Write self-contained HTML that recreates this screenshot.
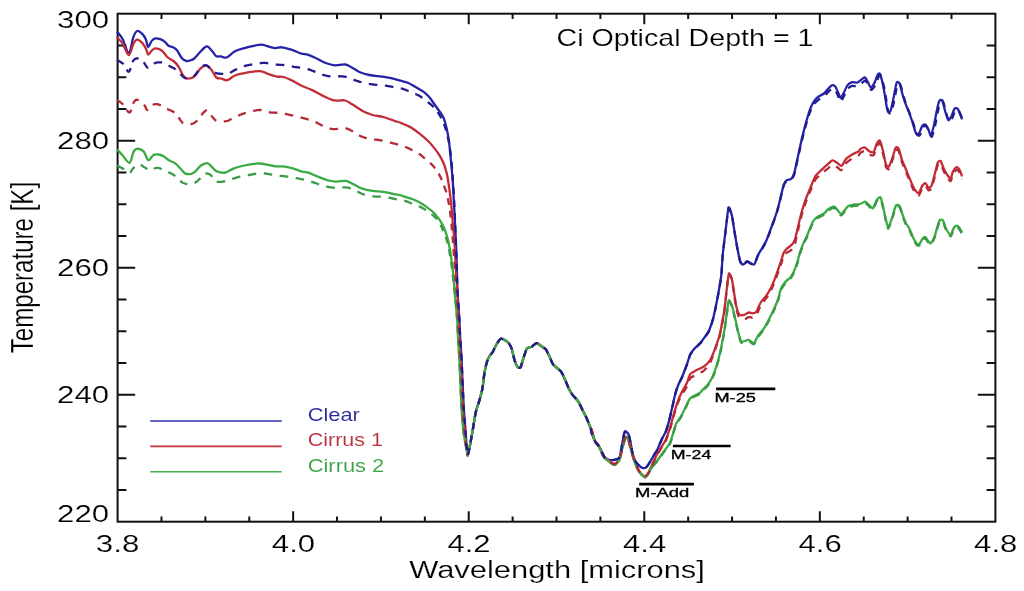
<!DOCTYPE html>
<html><head><meta charset="utf-8"><title>Ci Optical Depth</title>
<style>html,body{margin:0;padding:0;background:#fff;overflow:hidden}svg{display:block;will-change:transform}text{font-family:"Liberation Sans",sans-serif}</style>
</head><body>
<svg width="1024" height="591" viewBox="0 0 1024 591" font-family="Liberation Sans, sans-serif">
<rect width="1024" height="591" fill="#fff"/>
<rect x="117.6" y="13.7" width="877.8" height="508.0" fill="none" stroke="#111" stroke-width="2"/>
<path d="M161.49,521.70V516.50M161.49,13.70V18.90M205.38,521.70V516.50M205.38,13.70V18.90M249.27,521.70V516.50M249.27,13.70V18.90M293.16,521.70V511.20M293.16,13.70V24.20M337.05,521.70V516.50M337.05,13.70V18.90M380.94,521.70V516.50M380.94,13.70V18.90M424.83,521.70V516.50M424.83,13.70V18.90M468.72,521.70V511.20M468.72,13.70V24.20M512.61,521.70V516.50M512.61,13.70V18.90M556.50,521.70V516.50M556.50,13.70V18.90M600.39,521.70V516.50M600.39,13.70V18.90M644.28,521.70V511.20M644.28,13.70V24.20M688.17,521.70V516.50M688.17,13.70V18.90M732.06,521.70V516.50M732.06,13.70V18.90M775.95,521.70V516.50M775.95,13.70V18.90M819.84,521.70V511.20M819.84,13.70V24.20M863.73,521.70V516.50M863.73,13.70V18.90M907.62,521.70V516.50M907.62,13.70V18.90M951.51,521.70V516.50M951.51,13.70V18.90M117.60,489.95H126.40M995.40,489.95H986.60M117.60,458.20H126.40M995.40,458.20H986.60M117.60,426.45H126.40M995.40,426.45H986.60M117.60,394.70H135.20M995.40,394.70H977.80M117.60,362.95H126.40M995.40,362.95H986.60M117.60,331.20H126.40M995.40,331.20H986.60M117.60,299.45H126.40M995.40,299.45H986.60M117.60,267.70H135.20M995.40,267.70H977.80M117.60,235.95H126.40M995.40,235.95H986.60M117.60,204.20H126.40M995.40,204.20H986.60M117.60,172.45H126.40M995.40,172.45H986.60M117.60,140.70H135.20M995.40,140.70H977.80M117.60,108.95H126.40M995.40,108.95H986.60M117.60,77.20H126.40M995.40,77.20H986.60M117.60,45.45H126.40M995.40,45.45H986.60" stroke="#111" stroke-width="2" fill="none"/>
<text transform="translate(57.09,27.50) scale(1.2905,1)" font-size="24.20" fill="#000" stroke="#fff" stroke-width="0.184" >300</text>
<text transform="translate(57.09,148.70) scale(1.2905,1)" font-size="24.20" fill="#000" stroke="#fff" stroke-width="0.184" >280</text>
<text transform="translate(57.09,276.10) scale(1.2905,1)" font-size="24.20" fill="#000" stroke="#fff" stroke-width="0.184" >260</text>
<text transform="translate(57.09,403.40) scale(1.2905,1)" font-size="24.20" fill="#000" stroke="#fff" stroke-width="0.184" >240</text>
<text transform="translate(57.09,522.30) scale(1.2905,1)" font-size="24.20" fill="#000" stroke="#fff" stroke-width="0.184" >220</text>
<text transform="translate(95.85,552.00) scale(1.3150,1)" font-size="23.80" fill="#000" stroke="#fff" stroke-width="0.176" >3.8</text>
<text transform="translate(271.84,552.00) scale(1.3079,1)" font-size="23.80" fill="#000" stroke="#fff" stroke-width="0.176" >4.0</text>
<text transform="translate(447.40,552.00) scale(1.3079,1)" font-size="23.80" fill="#000" stroke="#fff" stroke-width="0.176" >4.2</text>
<text transform="translate(622.96,552.00) scale(1.3079,1)" font-size="23.80" fill="#000" stroke="#fff" stroke-width="0.176" >4.4</text>
<text transform="translate(798.52,552.00) scale(1.3079,1)" font-size="23.80" fill="#000" stroke="#fff" stroke-width="0.176" >4.6</text>
<text transform="translate(974.08,552.00) scale(1.3079,1)" font-size="23.80" fill="#000" stroke="#fff" stroke-width="0.176" >4.8</text>
<text transform="translate(409.19,577.60) scale(1.2559,1)" font-size="24.60" fill="#000" stroke="#fff" stroke-width="0.191" >Wavelength [microns]</text>
<text transform="translate(556.47,45.50) scale(1.2033,1)" font-size="23.80" fill="#000" stroke="#fff" stroke-width="0.176" >Ci Optical Depth = 1</text>
<text transform="translate(33,353.28) scale(1.30,1) rotate(-90)" font-size="24.1" fill="#000" stroke="#fff" stroke-width="0.18">Temperature [K]</text>
<line x1="150.2" y1="421.0" x2="281.7" y2="421.0" stroke="#3030b0" stroke-width="1.6"/>
<text transform="translate(307.71,421.00) scale(1.2488,1)" font-size="17.50" fill="#2a2a9c" stroke="#fff" stroke-width="0.063" >Clear</text>
<line x1="150.2" y1="446.4" x2="281.7" y2="446.4" stroke="#c53240" stroke-width="1.6"/>
<text transform="translate(307.73,446.20) scale(1.2286,1)" font-size="17.50" fill="#b8323e" stroke="#fff" stroke-width="0.063" >Cirrus 1</text>
<line x1="150.2" y1="471.8" x2="281.7" y2="471.8" stroke="#40b048" stroke-width="1.6"/>
<text transform="translate(307.71,471.80) scale(1.2504,1)" font-size="17.50" fill="#3aa446" stroke="#fff" stroke-width="0.063" >Cirrus 2</text>
<line x1="639.2" y1="484.1" x2="693.9" y2="484.1" stroke="#000" stroke-width="2.6"/>
<text transform="translate(635.03,496.90) scale(1.3753,1)" font-size="13.40" fill="#000" stroke="#000" stroke-width="0.35" >M-Add</text>
<line x1="672.9" y1="446.0" x2="730.6" y2="446.0" stroke="#000" stroke-width="2.6"/>
<text transform="translate(670.78,458.60) scale(1.3275,1)" font-size="13.40" fill="#000" stroke="#000" stroke-width="0.35" >M-24</text>
<line x1="716.1" y1="388.9" x2="775.3" y2="388.9" stroke="#000" stroke-width="2.6"/>
<text transform="translate(714.44,401.60) scale(1.3578,1)" font-size="13.40" fill="#000" stroke="#000" stroke-width="0.35" >M-25</text>
<path d="M117.00,31.70 C117.92,32.88 120.53,35.30 122.50,38.80 C124.47,42.30 126.98,53.00 128.80,52.70 C130.62,52.40 132.02,40.62 133.40,37.00 C134.78,33.38 135.55,31.45 137.10,31.00 C138.65,30.55 141.23,32.88 142.70,34.30 C144.17,35.72 144.98,37.37 145.90,39.50 C146.82,41.63 147.27,46.83 148.20,47.10 C149.13,47.37 150.33,42.55 151.50,41.10 C152.67,39.65 153.65,38.68 155.20,38.40 C156.75,38.12 159.20,38.83 160.80,39.40 C162.40,39.97 163.52,40.75 164.80,41.80 C166.08,42.85 167.08,44.77 168.50,45.70 C169.92,46.63 171.85,46.60 173.30,47.40 C174.75,48.20 175.77,48.68 177.20,50.50 C178.63,52.32 180.35,56.55 181.90,58.30 C183.45,60.05 184.95,60.70 186.50,61.00 C188.05,61.30 189.88,60.55 191.20,60.10 C192.52,59.65 192.83,59.73 194.40,58.30 C195.97,56.87 198.83,53.33 200.60,51.50 C202.37,49.67 203.82,48.12 205.00,47.30 C206.18,46.48 206.48,45.93 207.70,46.60 C208.92,47.27 210.87,49.68 212.30,51.30 C213.73,52.92 214.87,55.47 216.30,56.30 C217.73,57.13 219.22,56.10 220.90,56.30 C222.58,56.50 224.05,58.33 226.40,57.50 C228.75,56.67 232.00,52.87 235.00,51.30 C238.00,49.73 241.27,49.02 244.40,48.10 C247.53,47.18 250.93,46.37 253.80,45.80 C256.67,45.23 259.52,44.70 261.60,44.70 C263.68,44.70 264.10,45.23 266.30,45.80 C268.50,46.37 272.20,47.85 274.80,48.10 C277.40,48.35 279.15,47.03 281.90,47.30 C284.65,47.57 288.05,48.65 291.30,49.70 C294.55,50.75 298.80,52.82 301.40,53.60 C304.00,54.38 304.68,53.75 306.90,54.40 C309.12,55.05 311.58,56.07 314.70,57.50 C317.82,58.93 322.22,61.70 325.60,63.00 C328.98,64.30 331.73,65.05 335.00,65.30 C338.27,65.55 342.33,64.10 345.20,64.50 C348.07,64.90 349.73,66.40 352.20,67.70 C354.67,69.00 357.13,71.08 360.00,72.30 C362.87,73.52 365.75,74.28 369.40,75.00 C373.05,75.72 378.25,76.08 381.90,76.60 C385.55,77.12 388.23,77.43 391.30,78.10 C394.37,78.77 397.55,79.83 400.30,80.60 C403.05,81.37 405.25,81.63 407.80,82.70 C410.35,83.77 413.00,85.52 415.60,87.00 C418.20,88.48 421.18,89.98 423.40,91.60 C425.62,93.22 427.57,95.30 428.90,96.70 C430.23,98.10 429.87,97.87 431.40,100.00 C432.93,102.13 436.08,106.57 438.10,109.50 C440.12,112.43 442.03,114.23 443.50,117.60 C444.97,120.97 446.00,125.88 446.90,129.70 C447.80,133.52 448.33,136.45 448.90,140.50 C449.47,144.55 449.85,149.48 450.30,154.00 C450.75,158.52 451.20,163.18 451.60,167.60 C452.00,172.02 452.33,175.10 452.70,180.50 C453.07,185.90 453.20,188.42 453.80,200.00 C454.40,211.58 455.68,235.00 456.30,250.00 C456.92,265.00 456.98,278.33 457.50,290.00 C458.02,301.67 458.97,312.38 459.40,320.00 C459.69,325.08 459.86,331.26 460.10,335.70 C460.34,340.14 461.29,353.97 461.60,360.00 C461.91,366.03 462.64,384.40 462.90,390.00 C463.16,395.60 463.61,405.93 463.90,410.40 C464.19,414.87 465.22,426.48 465.50,430.20 C465.78,433.92 466.22,441.53 466.40,443.90 C466.58,446.27 466.97,450.23 467.10,451.50 C467.23,452.77 467.31,455.80 467.60,455.30 C467.89,454.80 469.13,449.79 469.70,447.00 C470.27,444.21 472.02,434.09 472.70,430.20 C473.38,426.31 475.03,415.38 475.80,412.00 C476.57,408.62 478.84,402.51 479.60,399.80 C480.36,397.09 482.07,390.54 482.60,387.60 C483.13,384.66 483.94,376.07 484.40,373.30 C484.86,370.53 486.18,364.54 486.70,362.70 C487.22,360.86 488.43,357.89 489.10,356.70 C489.77,355.51 491.91,353.31 492.70,352.00 C493.49,350.69 495.28,346.38 496.20,344.90 C497.12,343.42 499.68,338.97 501.00,338.70 C502.32,338.43 506.92,341.42 508.10,342.50 C509.28,343.58 510.88,346.42 511.60,348.40 C512.32,350.38 513.94,358.26 514.60,360.30 C515.26,362.34 516.84,366.01 517.50,366.80 C518.16,367.59 519.83,368.39 520.50,367.40 C521.17,366.41 522.78,360.01 523.50,357.90 C524.22,355.79 526.08,349.64 527.00,348.40 C527.92,347.16 530.74,347.29 531.80,346.70 C532.86,346.11 535.46,343.17 536.50,343.10 C537.54,343.03 540.14,345.38 541.20,346.10 C542.26,346.82 545.08,348.42 546.00,349.60 C546.92,350.78 548.71,355.06 549.50,356.70 C550.29,358.34 552.18,363.08 553.10,364.40 C554.02,365.72 556.88,367.74 557.80,368.60 C558.72,369.46 560.61,370.92 561.40,372.10 C562.19,373.28 564.13,377.50 564.90,379.20 C565.67,380.90 567.49,385.71 568.30,387.40 C569.11,389.09 571.09,392.83 572.20,394.40 C573.31,395.97 577.18,399.81 578.30,401.50 C579.42,403.19 581.40,407.80 582.30,409.60 C583.20,411.40 585.49,415.67 586.40,417.70 C587.31,419.73 589.90,426.12 590.50,427.90 C591.10,429.68 591.30,432.21 591.80,433.70 C592.30,435.19 594.19,439.89 595.00,441.30 C595.81,442.71 598.31,445.16 599.10,446.40 C599.89,447.64 601.42,451.20 602.10,452.50 C602.78,453.80 604.30,457.26 605.20,458.10 C606.10,458.94 609.08,459.93 610.20,460.10 C611.32,460.27 614.28,459.88 615.30,459.60 C616.32,459.32 618.72,458.84 619.40,457.60 C620.08,456.36 620.96,450.66 621.40,448.40 C621.84,446.14 623.00,439.21 623.40,437.30 C623.80,435.39 624.43,431.54 625.00,431.20 C625.57,430.86 627.89,432.97 628.50,434.20 C629.11,435.43 630.04,440.16 630.50,442.30 C630.96,444.44 632.03,451.36 632.60,453.50 C633.17,455.64 634.81,460.19 635.60,461.60 C636.39,463.01 638.86,465.47 639.70,466.20 C640.54,466.93 642.41,468.14 643.20,468.20 C643.99,468.26 645.96,467.54 646.80,466.70 C647.64,465.86 649.89,462.07 650.80,460.60 C651.71,459.13 654.30,454.68 655.00,453.50 C655.70,452.32 656.34,451.59 657.10,450.00 C657.86,448.41 660.81,441.32 661.80,439.20 C662.79,437.08 665.14,433.13 666.00,430.90 C666.86,428.67 668.78,421.86 669.50,419.10 C670.22,416.34 671.83,409.00 672.50,406.10 C673.17,403.20 674.84,395.38 675.50,393.00 C676.16,390.62 677.61,386.62 678.40,384.70 C679.19,382.78 681.62,378.06 682.60,375.70 C683.58,373.34 686.36,365.87 687.20,363.50 C688.04,361.13 689.36,356.09 690.20,354.40 C691.04,352.71 693.61,349.66 694.80,348.30 C695.99,346.94 699.72,343.56 700.90,342.20 C702.08,340.84 704.47,337.46 705.40,336.10 C706.33,334.74 708.38,332.20 709.30,330.00 C710.22,327.80 712.70,320.36 713.70,316.30 C714.70,312.24 717.46,298.07 718.30,293.50 C719.14,288.93 720.80,279.60 721.30,275.20 C721.80,270.80 722.29,259.13 722.80,253.90 C723.31,248.67 725.26,233.26 725.90,228.10 C726.54,222.94 727.92,208.86 728.60,207.50 C729.28,206.14 731.38,213.44 732.00,215.90 C732.62,218.36 733.61,226.06 734.20,229.60 C734.79,233.14 736.62,244.26 737.30,247.80 C737.98,251.34 739.62,259.63 740.30,261.50 C740.98,263.37 742.63,264.63 743.40,264.60 C744.17,264.57 746.02,261.20 747.20,261.20 C748.38,261.20 752.82,265.24 754.00,264.60 C755.18,263.96 756.87,257.27 757.80,255.40 C758.73,253.53 761.43,249.48 762.40,247.80 C763.37,246.12 765.43,242.78 766.50,240.30 C767.57,237.82 770.89,228.53 772.00,225.50 C773.11,222.47 775.67,215.61 776.50,213.00 C777.33,210.39 778.70,205.13 779.50,202.00 C780.30,198.87 782.90,187.22 783.70,184.80 C784.50,182.38 785.86,180.88 786.70,180.20 C787.54,179.52 790.44,179.54 791.30,178.70 C792.16,177.86 793.72,174.80 794.40,172.60 C795.08,170.40 796.73,161.94 797.40,158.90 C798.07,155.86 799.83,147.73 800.40,145.20 C800.97,142.67 801.82,138.80 802.50,136.10 C803.18,133.40 805.63,123.94 806.50,120.90 C807.37,117.86 809.46,110.90 810.30,108.70 C811.14,106.50 813.17,102.46 814.10,101.10 C815.03,99.74 817.60,97.34 818.70,96.50 C819.80,95.66 822.90,94.42 824.00,93.50 C825.10,92.58 827.67,89.13 828.60,88.20 C829.53,87.27 831.64,85.28 832.40,85.10 C833.16,84.92 834.72,85.67 835.40,86.60 C836.08,87.53 837.90,92.22 838.50,93.50 C839.10,94.78 840.21,98.19 840.80,98.10 C841.39,98.01 843.04,94.14 843.80,92.70 C844.56,91.26 846.67,86.28 847.60,85.10 C848.53,83.92 851.10,82.39 852.20,82.10 C853.30,81.81 856.40,82.84 857.50,82.50 C858.60,82.16 861.26,79.56 862.10,79.00 C862.94,78.44 864.42,77.08 865.10,77.50 C865.78,77.92 867.58,81.70 868.20,82.80 C868.82,83.90 870.00,87.39 870.70,87.40 C871.40,87.41 873.74,84.26 874.50,82.90 C875.26,81.54 876.91,76.22 877.50,75.20 C878.09,74.18 879.20,72.68 879.80,73.70 C880.40,74.72 882.31,81.86 882.90,84.40 C883.49,86.94 884.60,93.72 885.10,96.60 C885.60,99.48 886.80,108.70 887.40,110.30 C888.00,111.90 889.82,112.36 890.50,111.00 C891.18,109.64 892.82,101.22 893.50,98.10 C894.18,94.98 895.92,84.51 896.60,82.90 C897.28,81.29 898.92,82.26 899.60,83.60 C900.28,84.94 902.02,92.71 902.70,95.00 C903.38,97.29 905.02,102.33 905.70,104.20 C906.38,106.07 908.03,109.77 908.80,111.80 C909.57,113.83 911.84,120.21 912.60,122.50 C913.36,124.79 914.92,131.13 915.60,132.40 C916.28,133.67 917.93,134.67 918.70,133.90 C919.47,133.13 921.74,126.52 922.50,125.50 C923.26,124.48 924.82,124.19 925.50,124.70 C926.18,125.21 928.01,128.91 928.60,130.10 C929.19,131.29 930.21,135.91 930.80,135.40 C931.39,134.89 933.22,128.29 933.90,125.50 C934.58,122.71 936.31,113.01 936.90,110.30 C937.49,107.59 938.60,102.20 939.20,101.10 C939.80,100.00 941.62,99.21 942.30,100.40 C942.98,101.59 944.62,109.60 945.30,111.80 C945.98,114.00 947.72,119.69 948.40,120.20 C949.08,120.71 950.72,117.68 951.40,116.40 C952.08,115.12 953.82,109.56 954.50,108.70 C955.18,107.84 956.91,108.19 957.50,108.70 C958.09,109.21 959.29,112.11 959.80,113.30 C960.31,114.49 961.84,118.72 962.10,119.40" fill="none" stroke="#2523a8" stroke-width="2.3" stroke-linejoin="round"/>
<path d="M117.00,37.20 C117.92,38.23 120.53,40.42 122.50,43.40 C124.47,46.38 126.98,55.02 128.80,55.10 C130.62,55.18 132.02,46.47 133.40,43.90 C134.78,41.33 135.57,39.78 137.10,39.70 C138.63,39.62 141.07,41.77 142.60,43.40 C144.13,45.03 145.37,47.65 146.30,49.50 C147.23,51.35 147.27,54.33 148.20,54.50 C149.13,54.67 150.72,51.52 151.90,50.50 C153.08,49.48 153.67,48.40 155.30,48.40 C156.93,48.40 159.62,48.98 161.70,50.50 C163.78,52.02 165.83,55.75 167.80,57.50 C169.77,59.25 171.73,59.53 173.50,61.00 C175.27,62.47 176.77,63.87 178.40,66.30 C180.03,68.73 181.67,73.53 183.30,75.60 C184.93,77.67 186.35,78.58 188.20,78.70 C190.05,78.82 192.33,78.02 194.40,76.30 C196.47,74.58 198.65,70.23 200.60,68.40 C202.55,66.57 204.27,65.03 206.10,65.30 C207.93,65.57 209.90,67.97 211.60,70.00 C213.30,72.03 214.62,76.07 216.30,77.50 C217.98,78.93 219.88,78.15 221.70,78.60 C223.52,79.05 224.98,80.72 227.20,80.20 C229.42,79.68 232.13,76.68 235.00,75.50 C237.87,74.32 241.27,73.75 244.40,73.10 C247.53,72.45 250.93,71.90 253.80,71.60 C256.67,71.30 259.27,70.92 261.60,71.30 C263.93,71.68 265.20,73.02 267.80,73.90 C270.40,74.78 274.60,76.08 277.20,76.60 C279.80,77.12 280.80,76.28 283.40,77.00 C286.00,77.72 289.93,79.52 292.80,80.90 C295.67,82.28 297.47,83.80 300.60,85.30 C303.73,86.80 307.95,88.18 311.60,89.90 C315.25,91.62 319.12,93.95 322.50,95.60 C325.88,97.25 329.23,98.97 331.90,99.80 C334.57,100.63 336.28,100.48 338.50,100.60 C340.72,100.72 342.65,99.72 345.20,100.50 C347.75,101.28 350.82,103.50 353.80,105.30 C356.78,107.10 359.98,109.68 363.10,111.30 C366.22,112.92 369.12,114.05 372.50,115.00 C375.88,115.95 379.75,116.02 383.40,117.00 C387.05,117.98 391.63,119.98 394.40,120.90 C397.17,121.82 397.92,121.73 400.00,122.50 C402.08,123.27 404.87,124.55 406.90,125.50 C408.93,126.45 409.93,126.72 412.20,128.20 C414.47,129.68 417.77,132.18 420.50,134.40 C423.23,136.62 426.23,139.13 428.60,141.50 C430.97,143.87 432.85,146.23 434.70,148.60 C436.55,150.97 438.18,153.17 439.70,155.70 C441.22,158.23 442.78,161.42 443.80,163.80 C444.82,166.18 445.17,167.72 445.80,170.00 C446.43,172.28 446.77,172.50 447.60,177.50 C448.43,182.50 449.98,192.92 450.80,200.00 C451.62,207.08 451.90,213.17 452.50,220.00 C453.10,226.83 453.82,232.67 454.40,241.00 C454.98,249.33 455.48,261.00 456.00,270.00 C456.52,279.00 457.08,286.67 457.50,295.00 C457.92,303.33 458.22,313.22 458.50,320.00 C458.69,324.52 458.96,331.26 459.20,335.70 C459.44,340.14 460.39,353.97 460.70,360.00 C461.01,366.03 461.74,384.40 462.00,390.00 C462.26,395.60 462.71,405.93 463.00,410.40 C463.29,414.87 464.27,426.48 464.60,430.20 C464.93,433.92 465.71,441.53 465.99,443.90 C466.27,446.27 466.92,450.23 467.10,451.50 C467.28,452.77 467.31,455.80 467.60,455.30 C467.89,454.80 469.13,449.79 469.70,447.00 C470.27,444.21 472.02,434.09 472.70,430.20 C473.38,426.31 475.03,415.38 475.80,412.00 C476.57,408.62 478.84,402.51 479.60,399.80 C480.36,397.09 482.07,390.54 482.60,387.60 C483.13,384.66 483.94,376.07 484.40,373.30 C484.86,370.53 486.18,364.54 486.70,362.70 C487.22,360.86 488.43,357.89 489.10,356.70 C489.77,355.51 491.91,353.31 492.70,352.00 C493.49,350.69 495.28,346.38 496.20,344.90 C497.12,343.42 499.68,338.97 501.00,338.70 C502.32,338.43 506.92,341.42 508.10,342.50 C509.28,343.58 510.88,346.42 511.60,348.40 C512.32,350.38 513.94,358.26 514.60,360.30 C515.26,362.34 516.84,366.01 517.50,366.80 C518.16,367.59 519.83,368.39 520.50,367.40 C521.17,366.41 522.78,360.01 523.50,357.90 C524.22,355.79 526.08,349.64 527.00,348.40 C527.92,347.16 530.74,347.29 531.80,346.70 C532.86,346.11 535.46,343.17 536.50,343.10 C537.54,343.03 540.14,345.38 541.20,346.10 C542.26,346.82 545.08,348.42 546.00,349.60 C546.92,350.78 548.71,355.06 549.50,356.70 C550.29,358.34 552.18,363.08 553.10,364.40 C554.02,365.72 556.88,367.74 557.80,368.60 C558.72,369.46 560.61,370.92 561.40,372.10 C562.19,373.28 564.13,377.50 564.90,379.20 C565.67,380.90 567.49,385.71 568.30,387.40 C569.11,389.09 571.09,392.83 572.20,394.40 C573.31,395.97 577.18,399.81 578.30,401.50 C579.42,403.19 581.40,407.80 582.30,409.60 C583.20,411.40 585.49,415.67 586.40,417.70 C587.31,419.73 589.94,426.62 590.50,427.90 C591.06,429.18 590.90,427.78 591.40,429.20 C591.90,430.62 594.16,438.81 595.00,440.70 C595.84,442.59 598.03,444.50 599.00,446.20 C599.97,447.90 602.52,454.32 603.70,456.00 C604.88,457.68 608.39,460.41 609.60,461.30 C610.81,462.19 613.52,464.20 614.60,464.00 C615.68,463.80 618.42,461.42 619.30,459.50 C620.18,457.58 621.81,449.22 622.50,446.70 C623.19,444.18 624.83,437.58 625.50,436.80 C626.17,436.02 627.80,438.01 628.50,439.70 C629.20,441.39 631.00,449.30 631.80,452.00 C632.60,454.70 634.79,461.76 635.70,464.00 C636.61,466.24 638.98,470.84 640.00,472.20 C641.02,473.56 643.92,476.22 644.90,476.20 C645.88,476.18 647.94,473.41 648.80,472.00 C649.66,470.59 651.80,465.22 652.60,463.50 C653.40,461.78 655.23,458.00 656.00,456.50 C656.77,455.00 658.46,451.79 659.50,450.00 C660.54,448.21 664.22,442.91 665.40,440.40 C666.58,437.89 669.18,430.29 670.10,427.40 C671.02,424.51 672.84,417.30 673.70,414.40 C674.56,411.50 676.88,403.81 677.80,401.30 C678.72,398.79 681.01,393.77 682.00,391.80 C682.99,389.83 685.79,385.57 686.70,383.60 C687.61,381.63 689.13,375.58 690.20,374.10 C691.27,372.62 694.78,371.14 696.30,370.30 C697.82,369.46 702.38,367.60 703.90,366.50 C705.42,365.40 708.81,362.26 710.00,360.40 C711.19,358.54 713.67,352.17 714.60,349.80 C715.53,347.43 717.82,340.79 718.40,339.10 C718.98,337.41 719.13,337.81 719.80,334.60 C720.47,331.39 723.64,315.11 724.40,310.20 C725.16,305.29 726.10,294.46 726.60,290.40 C727.10,286.34 728.30,274.88 728.90,273.70 C729.50,272.52 731.41,277.60 732.00,279.80 C732.59,282.00 733.70,290.46 734.20,293.50 C734.70,296.54 735.90,304.83 736.50,307.20 C737.10,309.57 738.76,313.96 739.60,314.80 C740.44,315.64 743.09,315.06 744.10,314.80 C745.11,314.54 747.77,312.67 748.70,312.50 C749.63,312.33 751.66,313.38 752.50,313.30 C753.34,313.22 755.39,313.00 756.30,311.80 C757.21,310.60 759.57,304.33 760.70,302.50 C761.83,300.67 765.38,296.89 766.50,295.30 C767.62,293.71 769.84,290.11 770.80,288.20 C771.76,286.29 774.22,280.34 775.10,278.10 C775.98,275.86 777.94,270.20 778.70,268.00 C779.46,265.80 781.34,260.00 781.90,258.30 C782.46,256.60 783.19,253.73 783.70,252.70 C784.21,251.67 785.78,249.72 786.50,249.00 C787.22,248.28 789.48,246.82 790.20,246.20 C790.92,245.58 792.48,244.12 793.00,243.40 C793.52,242.68 794.54,240.69 794.90,239.70 C795.26,238.71 795.77,236.30 796.20,234.50 C796.63,232.70 798.17,226.08 798.80,223.50 C799.43,220.92 801.13,213.97 801.90,211.30 C802.67,208.63 804.74,202.14 805.70,199.50 C806.66,196.86 809.39,190.14 810.50,187.50 C811.61,184.86 814.44,177.69 815.70,175.70 C816.96,173.71 820.46,170.88 821.80,169.60 C823.14,168.32 826.62,165.22 827.80,164.20 C828.98,163.18 831.38,160.57 832.40,160.40 C833.42,160.23 835.99,162.10 837.00,162.70 C838.01,163.30 840.49,166.22 841.50,165.80 C842.51,165.38 844.91,160.17 846.10,158.90 C847.29,157.63 850.84,155.22 852.20,154.40 C853.56,153.58 857.38,152.11 858.30,151.50 C859.22,150.89 859.80,149.36 860.50,148.90 C861.20,148.44 863.64,147.14 864.60,147.40 C865.56,147.66 868.09,150.69 869.10,151.20 C870.11,151.71 872.84,152.84 873.70,152.00 C874.56,151.16 876.12,144.87 876.80,143.60 C877.48,142.33 879.12,139.83 879.80,140.60 C880.48,141.37 882.22,147.88 882.90,150.50 C883.58,153.12 885.23,162.42 885.90,164.20 C886.57,165.98 888.13,167.34 888.90,166.50 C889.67,165.66 892.03,158.72 892.80,156.60 C893.57,154.48 895.13,148.26 895.80,147.40 C896.47,146.54 898.12,147.54 898.80,148.90 C899.48,150.26 901.13,157.39 901.90,159.60 C902.67,161.81 904.93,166.93 905.70,168.80 C906.47,170.67 908.03,174.54 908.80,176.40 C909.57,178.26 911.84,183.90 912.60,185.50 C913.36,187.10 914.92,189.96 915.60,190.80 C916.28,191.64 917.93,193.69 918.70,193.10 C919.47,192.51 921.74,186.60 922.50,185.50 C923.26,184.40 924.82,182.94 925.50,183.20 C926.18,183.46 927.92,187.54 928.60,187.80 C929.28,188.06 930.93,186.94 931.60,185.50 C932.27,184.06 933.92,177.33 934.60,174.80 C935.28,172.27 937.02,164.22 937.70,162.70 C938.38,161.18 940.02,160.42 940.70,161.10 C941.38,161.78 943.12,167.36 943.80,168.80 C944.48,170.24 946.04,173.00 946.80,174.10 C947.56,175.20 949.92,178.96 950.60,178.70 C951.28,178.44 952.22,173.08 952.90,171.80 C953.58,170.52 955.93,167.37 956.70,167.20 C957.47,167.03 959.20,169.28 959.80,170.30 C960.40,171.32 961.84,175.72 962.10,176.40" fill="none" stroke="#c32c36" stroke-width="2.3" stroke-linejoin="round"/>
<path d="M117.00,149.20 C117.92,150.22 120.42,153.03 122.50,155.30 C124.58,157.57 127.68,163.32 129.50,162.80 C131.32,162.28 132.18,154.53 133.40,152.20 C134.62,149.87 135.10,148.93 136.80,148.80 C138.50,148.67 141.68,149.52 143.60,151.40 C145.52,153.28 146.65,159.50 148.30,160.10 C149.95,160.70 151.82,155.93 153.50,155.00 C155.18,154.07 156.80,154.32 158.40,154.50 C160.00,154.68 161.27,155.10 163.10,156.10 C164.93,157.10 167.32,159.25 169.40,160.50 C171.48,161.75 173.52,161.98 175.60,163.60 C177.68,165.22 180.25,168.53 181.90,170.20 C183.55,171.87 183.93,173.00 185.50,173.60 C187.07,174.20 189.68,174.12 191.30,173.80 C192.92,173.48 193.65,173.03 195.20,171.70 C196.75,170.37 198.58,167.23 200.60,165.80 C202.62,164.37 205.47,162.97 207.30,163.10 C209.13,163.23 210.02,165.22 211.60,166.60 C213.18,167.98 214.47,170.42 216.80,171.40 C219.13,172.38 222.73,173.02 225.60,172.50 C228.47,171.98 230.87,169.47 234.00,168.30 C237.13,167.13 241.10,166.23 244.40,165.50 C247.70,164.77 251.20,164.23 253.80,163.90 C256.40,163.57 257.67,163.35 260.00,163.50 C262.33,163.65 265.20,164.32 267.80,164.80 C270.40,165.28 273.00,166.13 275.60,166.40 C278.20,166.67 280.53,166.07 283.40,166.40 C286.27,166.73 289.67,167.53 292.80,168.40 C295.93,169.27 299.60,170.88 302.20,171.60 C304.80,172.32 305.80,171.87 308.40,172.70 C311.00,173.53 314.40,175.30 317.80,176.60 C321.20,177.90 325.67,179.67 328.80,180.50 C331.93,181.33 333.75,181.53 336.60,181.60 C339.45,181.67 343.03,180.43 345.90,180.90 C348.77,181.37 351.18,183.17 353.80,184.40 C356.42,185.63 358.48,187.22 361.60,188.30 C364.72,189.38 368.87,190.30 372.50,190.90 C376.13,191.50 379.75,191.35 383.40,191.90 C387.05,192.45 391.63,193.65 394.40,194.20 C397.17,194.75 398.18,194.75 400.00,195.20 C401.82,195.65 403.27,196.27 405.30,196.90 C407.33,197.53 409.85,198.10 412.20,199.00 C414.55,199.90 417.37,201.23 419.40,202.30 C421.43,203.37 421.88,203.53 424.40,205.40 C426.92,207.27 431.47,210.28 434.50,213.50 C437.53,216.72 440.40,220.47 442.60,224.70 C444.80,228.93 446.33,233.83 447.70,238.90 C449.07,243.97 449.88,249.35 450.80,255.10 C451.72,260.85 452.53,266.97 453.20,273.40 C453.87,279.83 454.13,285.93 454.80,293.70 C455.47,301.47 456.68,313.00 457.20,320.00 C457.72,327.00 457.53,329.03 457.90,335.70 C458.27,342.37 458.93,350.95 459.40,360.00 C459.71,366.03 460.44,384.40 460.70,390.00 C460.96,395.60 461.41,405.93 461.70,410.40 C461.99,414.87 462.89,426.48 463.30,430.20 C463.71,433.92 464.98,441.53 465.40,443.90 C465.82,446.27 466.86,450.23 467.10,451.50 C467.34,452.77 467.31,455.80 467.60,455.30 C467.89,454.80 469.13,449.79 469.70,447.00 C470.27,444.21 472.02,434.09 472.70,430.20 C473.38,426.31 475.03,415.38 475.80,412.00 C476.57,408.62 478.84,402.51 479.60,399.80 C480.36,397.09 482.07,390.54 482.60,387.60 C483.13,384.66 483.94,376.07 484.40,373.30 C484.86,370.53 486.18,364.54 486.70,362.70 C487.22,360.86 488.43,357.89 489.10,356.70 C489.77,355.51 491.91,353.31 492.70,352.00 C493.49,350.69 495.28,346.38 496.20,344.90 C497.12,343.42 499.68,338.97 501.00,338.70 C502.32,338.43 506.92,341.42 508.10,342.50 C509.28,343.58 510.88,346.42 511.60,348.40 C512.32,350.38 513.94,358.26 514.60,360.30 C515.26,362.34 516.84,366.01 517.50,366.80 C518.16,367.59 519.83,368.39 520.50,367.40 C521.17,366.41 522.78,360.01 523.50,357.90 C524.22,355.79 526.08,349.64 527.00,348.40 C527.92,347.16 530.74,347.29 531.80,346.70 C532.86,346.11 535.46,343.17 536.50,343.10 C537.54,343.03 540.14,345.38 541.20,346.10 C542.26,346.82 545.08,348.42 546.00,349.60 C546.92,350.78 548.71,355.06 549.50,356.70 C550.29,358.34 552.18,363.08 553.10,364.40 C554.02,365.72 556.88,367.74 557.80,368.60 C558.72,369.46 560.61,370.92 561.40,372.10 C562.19,373.28 564.13,377.50 564.90,379.20 C565.67,380.90 567.49,385.71 568.30,387.40 C569.11,389.09 571.09,392.83 572.20,394.40 C573.31,395.97 577.18,399.81 578.30,401.50 C579.42,403.19 581.40,407.80 582.30,409.60 C583.20,411.40 585.49,415.67 586.40,417.70 C587.31,419.73 589.94,426.53 590.50,427.90 C591.06,429.27 590.90,428.49 591.40,430.00 C591.90,431.51 594.16,439.61 595.00,441.50 C595.84,443.39 598.03,445.30 599.00,447.00 C599.97,448.70 602.52,455.12 603.70,456.80 C604.88,458.48 608.39,461.21 609.60,462.10 C610.81,462.99 613.52,465.00 614.60,464.80 C615.68,464.60 618.42,462.22 619.30,460.30 C620.18,458.38 621.81,450.02 622.50,447.50 C623.19,444.98 624.83,438.38 625.50,437.60 C626.17,436.82 627.80,438.81 628.50,440.50 C629.20,442.19 631.00,450.10 631.80,452.80 C632.60,455.50 634.79,462.56 635.70,464.80 C636.61,467.04 638.98,471.64 640.00,473.00 C641.02,474.36 643.92,477.02 644.90,477.00 C645.88,476.98 647.91,474.06 648.80,472.80 C649.69,471.54 651.99,467.01 652.90,465.70 C653.81,464.39 655.89,462.44 657.00,461.00 C658.11,459.56 661.84,454.14 662.90,452.70 C663.96,451.26 665.70,449.10 666.50,448.00 C667.30,446.90 669.37,444.43 670.10,442.80 C670.83,441.17 672.43,435.41 673.10,433.30 C673.77,431.19 675.24,425.64 676.10,423.80 C676.96,421.96 679.76,418.53 680.80,416.70 C681.84,414.87 684.51,409.27 685.50,407.30 C686.49,405.33 688.78,400.26 689.70,399.00 C690.62,397.74 692.68,396.67 693.80,396.00 C694.92,395.33 698.88,393.62 699.80,393.00 C700.72,392.38 701.19,391.36 702.10,390.40 C703.01,389.44 706.81,385.98 708.00,384.40 C709.19,382.82 711.88,378.17 712.80,376.20 C713.72,374.23 715.58,368.94 716.30,366.70 C717.02,364.46 718.71,358.37 719.30,356.00 C719.89,353.63 721.14,347.63 721.60,345.40 C722.06,343.17 723.07,337.72 723.40,335.90 C723.73,334.08 724.16,332.02 724.60,329.00 C725.04,325.98 726.92,311.89 727.40,308.70 C727.88,305.51 728.39,300.63 728.90,300.30 C729.41,299.97 731.32,303.76 732.00,305.70 C732.68,307.64 734.32,314.93 735.00,317.80 C735.68,320.67 737.42,328.88 738.10,331.50 C738.78,334.12 740.26,340.38 741.10,341.40 C741.94,342.42 744.86,340.87 745.70,340.70 C746.54,340.53 747.78,339.64 748.70,339.90 C749.62,340.16 752.99,343.42 754.00,343.00 C755.01,342.58 756.70,337.71 757.80,336.10 C758.90,334.49 762.70,330.29 763.90,328.50 C765.10,326.71 767.51,322.09 768.60,320.00 C769.69,317.91 772.66,311.98 773.70,309.70 C774.74,307.42 777.20,301.80 778.00,299.50 C778.80,297.20 780.06,290.99 780.90,289.00 C781.74,287.01 784.57,282.84 785.60,281.60 C786.63,280.36 789.32,278.84 790.20,277.80 C791.08,276.76 792.88,273.43 793.50,272.20 C794.12,270.97 795.33,267.93 795.80,266.70 C796.27,265.47 797.28,262.56 797.70,261.10 C798.12,259.64 799.13,255.16 799.60,253.60 C800.07,252.04 801.39,248.44 801.90,247.10 C802.41,245.76 803.63,242.74 804.20,241.50 C804.77,240.26 806.41,237.23 807.00,235.90 C807.59,234.57 808.80,231.16 809.50,229.50 C810.20,227.84 812.37,222.44 813.30,221.00 C814.23,219.56 816.71,217.33 817.90,216.50 C819.09,215.67 822.88,214.28 824.00,213.50 C825.12,212.72 827.11,210.22 828.00,209.50 C828.89,208.78 831.27,207.30 832.00,207.00 C832.73,206.70 833.97,206.43 834.60,206.80 C835.23,207.17 836.99,209.50 837.70,210.30 C838.41,211.10 840.32,213.89 841.00,214.00 C841.68,214.11 842.98,212.19 843.80,211.30 C844.62,210.41 847.21,206.76 848.40,206.00 C849.59,205.24 853.18,204.72 854.50,204.50 C855.82,204.28 859.11,204.32 860.30,204.00 C861.49,203.68 864.22,201.48 865.20,201.60 C866.18,201.72 868.23,204.37 869.10,205.10 C869.97,205.83 872.14,208.79 873.00,208.20 C873.86,207.61 875.96,200.99 876.80,199.80 C877.64,198.61 879.84,196.49 880.60,197.50 C881.36,198.51 883.01,206.44 883.60,208.90 C884.19,211.36 885.39,217.57 885.90,219.60 C886.41,221.63 887.52,227.37 888.20,227.20 C888.88,227.03 891.16,220.47 892.00,218.10 C892.84,215.73 894.96,207.26 895.80,205.90 C896.64,204.54 898.83,204.89 899.60,205.90 C900.37,206.91 902.02,213.13 902.70,215.00 C903.38,216.87 904.94,221.17 905.70,222.70 C906.46,224.23 908.73,227.28 909.50,228.80 C910.27,230.32 911.83,234.80 912.60,236.40 C913.37,238.00 915.64,242.36 916.40,243.20 C917.16,244.04 918.72,244.50 919.40,244.00 C920.08,243.50 921.82,239.47 922.50,238.70 C923.18,237.93 924.82,236.77 925.50,237.10 C926.18,237.43 928.01,241.02 928.60,241.70 C929.19,242.38 930.13,243.79 930.80,243.20 C931.47,242.61 933.83,238.34 934.60,236.40 C935.37,234.46 937.10,227.53 937.70,225.70 C938.30,223.87 939.41,220.49 940.00,219.90 C940.59,219.31 942.32,219.41 943.00,220.40 C943.68,221.39 945.26,227.20 946.10,228.80 C946.94,230.40 949.76,234.89 950.60,234.80 C951.44,234.71 953.02,229.01 953.70,228.00 C954.38,226.99 956.11,225.79 956.70,225.70 C957.29,225.61 958.40,226.43 959.00,227.20 C959.60,227.97 961.76,232.00 962.10,232.60" fill="none" stroke="#3aab42" stroke-width="2.3" stroke-linejoin="round"/>
<path d="M117.00,165.50 117.39,165.71 117.88,165.97 118.47,166.28 119.14,166.63 119.85,167.01 120.61,167.41 121.37,167.82 122.14,168.23 122.89,168.63 123.59,169.02 124.14,169.32M129.94,172.62 130.18,172.46 130.49,172.15 130.80,171.78 131.10,171.35 131.40,170.89 131.70,170.40 132.01,169.90 132.33,169.40 132.67,168.93 133.02,168.49 133.40,168.10 133.80,167.72 134.22,167.32 134.61,166.95M140.72,164.72 141.16,164.99 141.61,165.31 142.06,165.65 142.51,166.00 142.98,166.35 143.44,166.70 143.92,167.02 144.40,167.30 144.90,167.58 145.41,167.89 145.94,168.22 146.47,168.57 147.01,168.91 147.32,169.10M153.75,168.94 153.79,168.91 154.16,168.64 154.53,168.41 154.91,168.22 155.30,168.10 155.68,168.02 156.05,167.96 156.40,167.91 156.75,167.88 157.10,167.87 157.46,167.88 157.82,167.90 158.20,167.96 158.61,168.03 159.04,168.13 159.50,168.25 160.00,168.40 160.55,168.59 161.14,168.81 161.72,169.06M168.21,172.20 168.38,172.28 168.96,172.55 169.52,172.81 170.07,173.07 170.61,173.33 171.14,173.58 171.66,173.84 172.17,174.10 172.67,174.36 173.16,174.63 173.64,174.91 174.10,175.20 174.55,175.50 174.98,175.81 175.30,176.05M180.29,180.58 180.56,180.86 180.90,181.22 181.25,181.57 181.63,181.90 182.02,182.21 182.44,182.51 182.90,182.77 183.40,183.00 183.95,183.21 184.55,183.41 185.18,183.60 185.85,183.77 186.54,183.92 187.25,184.05 187.38,184.07M194.60,182.97 195.00,182.73 195.49,182.40 195.98,182.06 196.48,181.69 196.99,181.30 197.50,180.90 198.03,180.45 198.57,179.94 199.12,179.37 199.68,178.76 200.24,178.13 200.38,177.97M205.40,173.56 205.60,173.51 205.90,173.45 206.20,173.42 206.49,173.43 206.78,173.45 207.08,173.49 207.38,173.54 207.70,173.60 208.02,173.67 208.34,173.77 208.66,173.88 208.97,174.02 209.28,174.18 209.60,174.36 209.92,174.56 210.24,174.78 210.57,175.03 210.90,175.30 211.25,175.59 211.60,175.90 211.95,176.26 212.30,176.70 212.36,176.77M216.72,181.55 216.84,181.60 217.42,181.74 218.03,181.84 218.67,181.89 219.33,181.91 220.01,181.89 220.69,181.84 221.39,181.77 222.08,181.69 222.76,181.60 223.44,181.50 224.10,181.40 224.75,181.29 225.22,181.19M232.29,178.98 232.54,178.90 233.16,178.70 233.78,178.50 234.39,178.29 234.99,178.09 235.61,177.88 236.23,177.68 236.87,177.47 237.53,177.27 238.22,177.08 238.94,176.89 239.70,176.70 240.35,176.55M247.77,175.18 247.91,175.16 248.83,175.00 249.73,174.85 250.60,174.70 251.45,174.55 252.31,174.40 253.17,174.25 254.02,174.10 254.86,173.95 255.69,173.81 256.21,173.73M263.74,173.27 264.11,173.32 264.70,173.40 265.40,173.50 266.18,173.63 267.02,173.78 267.93,173.94 268.88,174.12 269.86,174.30 270.85,174.49 271.85,174.67 272.17,174.73M279.68,175.74 280.20,175.79 280.94,175.85 281.69,175.92 282.47,175.99 283.27,176.08 284.11,176.18 285.00,176.30 285.95,176.44 286.96,176.59 288.02,176.76 288.21,176.79M295.65,178.07 295.65,178.07 296.61,178.24 297.50,178.40 298.31,178.55 299.05,178.68 299.74,178.81 300.39,178.93 301.00,179.04 301.59,179.16 302.17,179.27 302.76,179.40 303.35,179.53 303.96,179.67 304.04,179.69M311.21,181.70 311.63,181.82 312.42,182.07 313.21,182.32 313.97,182.56 314.70,182.80 315.40,183.04 316.07,183.28 316.72,183.52 317.36,183.77 317.98,184.01 318.60,184.26 319.10,184.45M326.25,186.49 326.47,186.54 327.30,186.71 328.13,186.87 328.94,187.02 329.74,187.16 330.50,187.29 331.22,187.40 331.90,187.50 332.52,187.58 333.09,187.65 333.62,187.70 334.11,187.74 334.59,187.77 334.72,187.77M342.32,187.53 342.34,187.53 343.10,187.47 343.86,187.43 344.60,187.41 345.33,187.41 346.03,187.44 346.70,187.50 347.34,187.59 347.94,187.71 348.53,187.85 349.10,188.00 349.65,188.17 350.21,188.36 350.72,188.55M357.34,191.50 357.43,191.55 358.21,191.95 358.99,192.35 359.79,192.74 360.60,193.12 361.43,193.48 362.26,193.81 363.10,194.10 363.96,194.37 364.84,194.62 364.96,194.65M372.33,196.16 373.18,196.28 374.10,196.40 375.01,196.50 375.92,196.57 376.83,196.61 377.74,196.63 378.65,196.64 379.56,196.65 380.46,196.66 380.93,196.66M388.44,197.51 388.89,197.60 389.89,197.83 390.88,198.06 391.84,198.29 392.77,198.51 393.65,198.72 394.48,198.91 395.23,199.07 395.90,199.20 396.48,199.30 396.76,199.34M404.17,200.56 404.53,200.68 405.11,200.89 405.73,201.12 406.39,201.38 407.08,201.65 407.79,201.92 408.51,202.21 409.23,202.50 409.95,202.79 410.66,203.07 411.34,203.34 411.91,203.57M418.76,206.20 418.80,206.22 419.40,206.50 419.99,206.78 420.55,207.06 421.11,207.33 421.65,207.60 422.19,207.88 422.73,208.18 423.28,208.49 423.85,208.82 424.44,209.19 425.06,209.58 425.71,210.02 425.82,210.10M431.45,214.14 431.54,214.21 432.46,214.93 433.36,215.65 434.23,216.39 435.05,217.13 435.81,217.87 436.50,218.60 437.08,219.28M440.42,224.65 440.77,225.37 441.17,226.21 441.57,227.09 442.00,228.00 442.44,228.94 442.88,229.91 443.32,230.90 443.38,231.04M445.65,236.77 445.87,237.38 446.26,238.56 446.64,239.77 447.00,241.00 447.35,242.27 447.63,243.39M448.94,249.30 449.19,250.57 449.46,252.04 449.73,253.52 449.99,255.00 450.17,256.03M451.11,261.98 451.21,262.63 451.43,264.22 451.64,265.83 451.84,267.44 452.01,268.74M452.73,274.72 452.81,275.45 453.00,277.00 453.18,278.51 453.36,279.98 453.53,281.41 453.54,281.49M454.22,287.46 454.34,288.52 454.50,290.03 454.66,291.61 454.83,293.26 454.92,294.24M455.50,300.22 455.57,300.98 455.77,303.16 455.98,305.39 456.12,307.01M456.65,312.99 456.75,314.24 456.92,316.29 457.07,318.22 457.18,319.78M457.52,325.77 457.56,326.77 457.59,327.89 457.63,329.02 457.66,330.17 457.70,331.39 457.75,332.57M458.07,338.56 458.11,339.19 458.22,341.04 458.35,342.95 458.48,344.93 458.51,345.36M458.90,351.35 459.02,353.32 459.15,355.52 459.28,357.75 459.30,358.14M459.60,364.14 459.70,366.45 459.82,369.21 459.89,370.93M460.14,376.93 460.20,378.17 460.32,381.07 460.43,383.72M460.69,389.72 460.70,390.00 460.77,391.49 460.84,393.15 460.92,394.92 461.00,396.52M461.28,402.51 461.28,402.53 461.37,404.37 461.46,406.12 461.54,407.73 461.62,409.17 461.63,409.31M462.05,415.30 462.15,416.69 462.30,418.62 462.45,420.58 462.58,422.09M463.09,428.07 463.19,429.11 463.30,430.20 463.42,431.21 463.57,432.34 463.74,433.58 463.93,434.84M464.87,440.79 464.95,441.28 465.12,442.32 465.28,443.20 465.40,443.90 465.52,444.52 465.65,445.20 465.81,445.91 465.97,446.64 466.14,447.38 466.17,447.51M467.39,453.43 467.42,453.72 467.46,454.08 467.50,454.41 467.53,454.71 467.56,454.96 467.58,455.16 467.60,455.30" fill="none" stroke="#3a9a46" stroke-width="2.3" stroke-linejoin="round"/>
<path d="M590.50,427.90 590.53,427.96 590.57,428.03 590.61,428.12 590.67,428.21 590.73,428.33 590.80,428.48 590.88,428.64 590.97,428.84 591.06,429.08 591.17,429.35 591.28,429.66 591.40,430.01 591.56,430.52 591.78,431.26 592.05,432.19 592.37,433.25 592.71,434.42 592.72,434.46M594.53,440.29 594.76,440.95 595.00,441.54 595.24,442.02 595.52,442.49 595.85,442.97 596.20,443.44 596.57,443.91 596.95,444.38 597.34,444.84 597.72,445.30 598.09,445.76 598.43,446.20 598.49,446.29M601.22,451.88 601.27,452.00 601.72,453.01 602.17,453.99 602.60,454.91 603.01,455.72 603.38,456.40 603.70,456.91 604.04,457.36 604.46,457.83 604.69,458.07M609.87,462.46 609.93,462.51 610.32,462.79 610.74,463.10 611.20,463.42 611.67,463.74 612.15,464.04 612.63,464.33 613.09,464.58 613.53,464.78 613.94,464.93 614.30,465.01 614.60,465.00 614.90,464.91 615.26,464.74 615.67,464.50 616.10,464.19 616.56,463.83 616.77,463.64M620.01,458.32 620.07,458.09 620.37,456.94 620.67,455.69 620.97,454.38 621.27,453.06 621.56,451.78 621.59,451.63M623.04,445.74 623.17,445.27 623.44,444.26 623.72,443.22 624.01,442.18 624.30,441.17 624.58,440.24 624.85,439.41 624.95,439.11M628.68,441.32 628.70,441.37 628.93,442.13 629.20,443.08 629.49,444.17 629.80,445.36 630.11,446.61 630.43,447.87 630.46,447.98M632.01,453.85 632.03,453.91 632.30,454.82 632.62,455.85 632.96,456.97 633.33,458.14 633.71,459.34 634.07,460.45M636.15,466.22 636.26,466.48 636.61,467.23 636.99,468.01 637.39,468.82 637.81,469.63 638.22,470.42 638.63,471.18 639.02,471.87 639.39,472.49 639.41,472.52M644.12,477.17 644.27,477.26 644.62,477.41 644.90,477.46 645.17,477.40 645.47,477.23 645.80,476.98 646.15,476.65 646.51,476.26 646.88,475.84 647.25,475.38 647.61,474.92 647.95,474.47 648.27,474.03 648.56,473.63 648.80,473.29 649.05,472.91 649.29,472.52M652.39,467.04 652.64,466.62 652.90,466.23 653.15,465.89 653.44,465.53 653.77,465.15 654.12,464.76 654.49,464.36 654.88,463.95 655.26,463.54 655.65,463.13 656.02,462.72 656.37,462.32 656.70,461.94 657.00,461.57 657.14,461.38M660.89,456.15 661.15,455.78 661.69,455.02 662.17,454.34 662.58,453.76 662.90,453.33 663.18,452.96 663.48,452.56 663.80,452.15 664.12,451.73 664.46,451.30 664.80,450.87 665.13,450.45 665.25,450.29M669.15,445.13 669.34,444.84 669.63,444.37 669.89,443.92 670.10,443.50 670.30,443.01 670.53,442.38 670.78,441.63 671.06,440.79 671.34,439.89 671.62,438.95 671.71,438.66M673.47,432.82 673.49,432.73 673.73,431.92 673.98,431.05 674.25,430.13 674.53,429.20 674.81,428.26 675.09,427.36 675.36,426.52 675.47,426.21M678.58,420.76 678.85,420.38 679.31,419.74 679.75,419.12 680.15,418.54 680.50,417.99 680.80,417.51 681.09,416.98 681.44,416.32 681.84,415.55 682.26,414.71 682.30,414.63M685.06,409.04 685.22,408.72 685.50,408.16 685.77,407.61 686.09,406.95 686.44,406.21 686.82,405.42 687.22,404.60 687.62,403.76 688.03,402.94 688.15,402.69M692.31,397.80 692.44,397.72 692.82,397.50 693.17,397.30 693.50,397.11 693.80,396.94 694.14,396.75 694.57,396.54 695.08,396.29 695.65,396.02 696.25,395.74 696.88,395.45 697.49,395.17 698.08,394.89 698.63,394.62 699.11,394.38 699.51,394.17 699.57,394.14M704.18,389.39 704.35,389.23 704.95,388.65 705.55,388.05 706.14,387.46 706.70,386.89 707.21,386.35 707.65,385.85 708.00,385.42 708.33,384.97 708.70,384.41 709.08,383.82M712.24,378.36 712.53,377.78 712.80,377.24 713.05,376.68 713.33,376.01 713.63,375.24 713.96,374.40 714.29,373.51 714.62,372.60 714.88,371.89M716.81,366.08 716.99,365.47 717.27,364.51 717.56,363.49 717.85,362.45 718.14,361.40 718.42,360.38 718.68,359.44M720.10,353.55 720.28,352.75 720.50,351.71 720.72,350.68 720.93,349.68 721.13,348.73 721.31,347.86 721.47,347.10 721.52,346.84M722.67,340.91 722.72,340.64 722.89,339.75 723.04,338.91 723.18,338.15 723.30,337.50 723.40,336.97 723.49,336.51 723.57,336.04 723.67,335.55 723.76,335.04 723.86,334.52 723.92,334.18M724.86,328.23 724.93,327.74 725.16,326.08 725.42,324.18 725.70,322.12 725.79,321.47M726.60,315.50 726.82,313.87 727.06,312.18 727.25,310.79 727.40,309.78 727.52,308.95 727.55,308.74M728.44,302.78 728.52,302.39 728.64,301.90 728.77,301.56 728.90,301.39 729.06,301.39 729.26,301.54 729.50,301.82 729.78,302.21 730.08,302.69 730.39,303.24 730.70,303.83 731.01,304.45 731.30,305.08 731.57,305.70 731.75,306.12M733.37,311.98 733.50,312.50 733.79,313.72 734.07,314.92 734.34,316.08 734.59,317.15 734.81,318.10 734.94,318.67M736.27,324.58 736.55,325.85 736.85,327.21 737.15,328.53 737.42,329.77 737.68,330.89 737.77,331.27M739.26,337.16 739.54,338.17 739.82,339.16 740.10,340.08 740.37,340.91 740.63,341.62 740.88,342.16 741.10,342.52 741.35,342.73 741.68,342.84 742.06,342.87 742.48,342.84 742.52,342.83M749.47,341.49 749.78,341.70 750.26,342.06 750.78,342.46 751.32,342.86 751.86,343.25 752.38,343.60 752.88,343.89 753.32,344.09 753.70,344.19 754.00,344.16 754.27,343.97 754.56,343.62 754.87,343.13 755.19,342.55 755.36,342.22M758.24,336.68 758.55,336.28 759.05,335.66 759.60,334.99 760.20,334.28 760.81,333.55 761.43,332.81 762.03,332.09 762.60,331.40 762.94,330.97M766.28,325.59 766.29,325.56 766.73,324.74 767.16,323.94 767.58,323.16 767.96,322.43 768.30,321.78 768.60,321.21 768.91,320.61 769.28,319.88 769.58,319.30M772.36,313.72 772.62,313.19 773.04,312.33 773.40,311.56 773.70,310.92 773.99,310.29 774.33,309.54 774.70,308.69 775.10,307.78 775.30,307.32M777.67,301.62 777.77,301.37 778.00,300.73 778.21,300.08 778.43,299.30 778.67,298.40 778.92,297.43 779.17,296.41 779.43,295.37 779.53,294.98M781.42,289.18 781.47,289.09 781.85,288.43 782.26,287.72 782.71,287.00 783.18,286.27 783.65,285.56 784.11,284.88 784.55,284.26 784.95,283.70 785.31,283.22 785.37,283.14M790.47,278.72 790.71,278.38 791.00,277.93 791.31,277.43 791.63,276.90 791.95,276.35 792.26,275.79 792.56,275.25 792.85,274.73 793.10,274.25 793.32,273.83 793.50,273.48 793.67,273.14 793.85,272.73 793.96,272.50M796.24,266.78 796.41,266.31 796.58,265.80 796.77,265.27 796.95,264.74 797.12,264.22 797.29,263.71 797.45,263.23 797.58,262.79 797.70,262.39 797.82,261.97 797.95,261.44 798.11,260.83 798.27,260.17M799.79,254.29 799.90,253.97 800.08,253.42 800.29,252.82 800.51,252.20 800.73,251.57 800.96,250.95 801.18,250.34 801.39,249.77 801.58,249.24 801.76,248.78 801.90,248.40 802.04,248.03 802.15,247.75M804.56,242.06 804.56,242.05 804.79,241.59 805.05,241.10 805.32,240.58 805.59,240.04 805.87,239.50 806.14,238.98 806.39,238.47 806.63,238.00 806.83,237.57 807.00,237.21 807.16,236.83 807.34,236.39 807.54,235.88 807.61,235.70M809.85,229.97 809.96,229.71 810.26,228.99 810.59,228.19 810.94,227.35 811.31,226.48 811.69,225.62 812.06,224.79 812.41,224.02 812.64,223.54M816.89,218.61 817.21,218.34 817.58,218.06 817.90,217.82 818.25,217.60 818.69,217.37 819.20,217.11 819.76,216.85 820.36,216.58 820.97,216.30 821.59,216.03 822.18,215.77 822.74,215.51 823.24,215.26 823.67,215.04 824.00,214.83 824.01,214.82M828.86,210.21 828.90,210.18 829.27,209.93 829.66,209.68 830.06,209.43 830.45,209.19 830.83,208.96 831.19,208.75 831.51,208.58 831.78,208.44 832.00,208.34 832.19,208.27 832.40,208.19 832.63,208.13 832.86,208.07 833.10,208.03 833.34,207.99 833.58,207.97 833.81,207.96 834.03,207.98 834.24,208.01 834.43,208.06 834.60,208.14 834.78,208.27 835.00,208.47 835.25,208.73 835.53,209.04 835.81,209.36M839.91,214.42 840.00,214.52 840.30,214.84 840.57,215.09 840.81,215.27 841.00,215.35 841.18,215.34 841.39,215.25 841.61,215.10 841.84,214.90 842.09,214.65 842.35,214.38 842.60,214.08 842.86,213.77 843.11,213.46 843.35,213.17 843.59,212.89 843.80,212.65 844.04,212.38 844.34,212.00 844.70,211.56 845.09,211.05 845.14,211.00M850.15,206.70 850.22,206.69 850.80,206.54 851.40,206.41 852.00,206.29 852.60,206.18 853.16,206.09 853.67,206.00 854.12,205.93 854.50,205.87 854.87,205.82 855.31,205.78 855.80,205.74 856.33,205.71 856.88,205.68 857.45,205.66 858.01,205.63 858.56,205.59 858.64,205.59M865.31,203.01 865.47,203.06 865.77,203.23 866.10,203.48 866.45,203.78 866.82,204.13 867.19,204.50 867.56,204.89 867.92,205.28 868.26,205.64 868.58,205.98 868.86,206.26 869.10,206.48 869.34,206.71 869.63,207.01 869.95,207.36 870.31,207.75 870.68,208.14 870.76,208.23M874.66,206.22 874.90,205.62 875.27,204.68 875.63,203.77 875.97,202.92 876.28,202.19 876.56,201.60 876.80,201.19 877.04,200.88 877.32,200.54 877.64,200.19 877.87,199.97M881.65,202.03 881.87,202.87 882.16,204.06 882.45,205.27 882.73,206.48 882.99,207.63 883.23,208.67 883.24,208.72M884.53,214.63 884.56,214.75 884.78,215.81 885.00,216.86 885.21,217.87 885.41,218.82 885.59,219.68 885.76,220.41 885.90,221.00 885.98,221.33M887.44,227.22 887.63,227.77 887.83,228.24 888.02,228.53 888.20,228.61 888.40,228.44 888.66,228.04 888.96,227.45 889.30,226.70 889.66,225.83 890.04,224.88 890.42,223.89 890.49,223.71M892.50,217.92 892.52,217.88 892.83,216.80 893.17,215.60 893.53,214.33 893.90,213.03 894.27,211.76 894.41,211.29M897.73,206.43 898.10,206.48 898.46,206.57 898.80,206.70 899.11,206.87 899.38,207.08 899.60,207.32 899.81,207.68 900.05,208.22 900.31,208.91 900.59,209.72 900.89,210.61 901.18,211.55 901.36,212.14M903.26,217.95 903.35,218.20 903.61,218.91 903.89,219.65 904.17,220.40 904.46,221.15 904.74,221.86 905.01,222.54 905.26,223.15 905.50,223.69 905.70,224.13 905.86,224.43M909.26,229.80 909.28,229.82 909.50,230.23 909.71,230.67 909.94,231.21 910.20,231.84 910.47,232.53 910.76,233.25 911.05,234.01 911.34,234.76 911.63,235.49 911.90,236.19 911.93,236.26M914.69,241.85 914.88,242.21 915.25,242.86 915.60,243.45 915.91,243.95 916.18,244.36 916.40,244.64 916.60,244.84 916.84,245.03 917.09,245.19 917.36,245.34 917.64,245.45 917.93,245.55 918.21,245.61 918.49,245.65 918.75,245.65 918.99,245.62 919.21,245.55 919.40,245.44 919.59,245.25 919.82,244.93 920.01,244.63M923.43,239.32 923.71,239.12 924.00,238.94 924.29,238.78 924.57,238.65 924.84,238.55 925.09,238.50 925.31,238.50 925.50,238.55 925.69,238.70 925.92,238.96 926.19,239.32 926.47,239.74 926.78,240.22 927.08,240.72 927.39,241.24 927.69,241.74 927.96,242.20 928.21,242.60 928.40,242.88M932.59,241.89 932.66,241.77 933.05,241.07 933.42,240.36 933.78,239.66 934.10,239.00 934.38,238.39 934.60,237.86 934.81,237.28 935.05,236.52 935.32,235.63 935.37,235.47M937.00,229.60 937.07,229.34 937.32,228.46 937.53,227.73 937.70,227.17 937.86,226.68 938.04,226.14 938.23,225.57 938.43,224.98 938.64,224.39 938.85,223.80 939.07,223.24 939.16,223.02M943.59,223.22 943.65,223.38 943.92,224.14 944.20,224.97 944.49,225.85 944.78,226.74 945.07,227.61 945.35,228.43 945.62,229.17 945.87,229.78M949.27,235.14 949.66,235.61 950.03,235.98 950.35,236.21 950.60,236.28 950.83,236.15 951.08,235.82 951.35,235.33 951.63,234.71 951.92,234.00 952.21,233.23 952.50,232.45 952.78,231.68 952.87,231.43M957.41,227.36 957.42,227.37 957.63,227.48 957.85,227.62 958.06,227.77 958.27,227.94 958.47,228.12 958.66,228.31 958.84,228.50 959.00,228.69 959.18,228.95 959.41,229.32 959.69,229.78 959.99,230.30 960.32,230.87 960.65,231.46 960.97,232.04 961.28,232.60 961.55,233.11 961.61,233.21" fill="none" stroke="#3a9a46" stroke-width="2.3" stroke-linejoin="round"/>
<path d="M117.00,100.00 117.26,100.18 117.58,100.38 117.95,100.61 118.37,100.87 118.83,101.16 119.31,101.47 119.82,101.81 120.35,102.19 120.89,102.59 121.43,103.03 121.97,103.50 122.50,104.00 123.04,104.61 123.14,104.73M126.74,110.02 127.34,110.83 127.93,111.54 128.50,112.07 129.02,112.41 129.50,112.50 129.93,112.32 130.33,111.89 130.69,111.24 131.03,110.43 131.33,109.54M133.06,103.70 133.08,103.63 133.40,103.00 133.71,102.49 134.01,102.00 134.30,101.55 134.58,101.14 134.86,100.78 135.15,100.46 135.45,100.20 135.76,99.99 136.10,99.84 136.46,99.76 136.86,99.74 137.30,99.80 137.79,99.96 138.34,100.22 138.63,100.40M143.85,104.75 143.94,104.84 144.40,105.30 144.79,105.75 145.11,106.25 145.38,106.77 145.61,107.30 145.81,107.83 146.00,108.34 146.18,108.81 146.38,109.22 146.59,109.56 146.84,109.82 147.14,109.97 147.50,110.00 147.91,109.88 148.16,109.73M152.91,105.05 153.27,104.78 153.80,104.50 154.32,104.32 154.82,104.19 155.32,104.12 155.81,104.09 156.31,104.10 156.81,104.14 157.31,104.23 157.82,104.34 158.34,104.47 158.88,104.63 159.43,104.81 160.00,105.00 160.60,105.22 160.91,105.36M167.12,108.83 167.20,108.88 167.80,109.20 168.38,109.49 168.96,109.75 169.52,110.00 170.07,110.23 170.61,110.45 171.14,110.67 171.66,110.89 172.17,111.13 172.67,111.38 173.16,111.66 173.64,111.96 174.10,112.30 174.35,112.51M178.55,117.50 178.80,117.80 179.18,118.27 179.53,118.77 179.88,119.29 180.22,119.81 180.56,120.33 180.90,120.84 181.25,121.34 181.63,121.81 182.02,122.26 182.44,122.66 182.90,123.01 183.19,123.18M190.51,124.23 190.69,124.21 191.30,124.10 191.88,123.95 192.43,123.77 192.97,123.55 193.49,123.30 194.00,123.01 194.50,122.69 195.00,122.35 195.49,121.97 195.98,121.57 196.48,121.14 196.99,120.68 197.35,120.34M201.40,115.26 201.87,114.61 202.39,113.92 202.89,113.29 203.36,112.75 203.80,112.30 204.20,111.92 204.57,111.58 204.91,111.28 205.22,111.01 205.52,110.79 205.81,110.62 206.09,110.50 206.38,110.43 206.68,110.43 206.98,110.48M211.24,115.33 211.30,115.41 211.76,116.10 212.22,116.74 212.67,117.31 213.10,117.80 213.50,118.23 213.87,118.63 214.21,119.01 214.54,119.37 214.87,119.70 215.20,120.01 215.54,120.30 215.91,120.55 216.31,120.78M223.75,121.41 224.13,121.38 224.96,121.28 225.76,121.17 226.51,121.04 227.20,120.90 227.82,120.74 228.38,120.55 228.90,120.33 229.39,120.10 229.85,119.84 230.30,119.57 230.75,119.29 231.21,118.99 231.52,118.80M238.08,115.76 238.83,115.45 239.67,115.11 240.49,114.78 241.29,114.47 242.06,114.17 242.80,113.90 243.50,113.65 244.17,113.42 244.83,113.20 245.46,112.99 245.88,112.85M253.12,110.99 253.61,110.87 254.40,110.69 255.20,110.51 256.00,110.35 256.81,110.22 257.61,110.11 258.41,110.03 259.21,109.99 260.00,110.00 260.78,110.06 261.55,110.17 261.59,110.18M268.77,112.19 269.40,112.30 270.25,112.41 271.11,112.50 271.98,112.57 272.86,112.62 273.75,112.66 274.66,112.69 275.57,112.73 276.49,112.77 277.35,112.82M284.85,113.85 285.39,113.95 286.45,114.16 287.51,114.37 288.57,114.59 289.64,114.81 290.70,115.04 291.75,115.27 292.80,115.50 293.20,115.59M300.50,117.32 301.36,117.54 302.39,117.81 303.40,118.08 304.37,118.34 305.30,118.60 306.19,118.85 307.05,119.10 307.87,119.34 308.64,119.57M315.56,122.08 316.27,122.41 317.05,122.81 317.84,123.22 318.62,123.64 319.41,124.07 320.19,124.50 320.97,124.91 321.76,125.32 322.54,125.71 322.77,125.81M329.60,128.47 330.18,128.63 330.96,128.83 331.75,128.99 332.57,129.11 333.40,129.20 334.26,129.22 335.15,129.17 336.07,129.06 337.00,128.91 337.94,128.73 338.04,128.70M345.52,128.21 346.10,128.35 346.94,128.62 347.77,128.92 348.59,129.26 349.40,129.63 350.19,130.02 350.96,130.41 351.71,130.81 352.44,131.19 353.04,131.51M358.95,135.27 359.38,135.50 360.00,135.80 360.67,136.09 361.38,136.39 362.12,136.68 362.90,136.97 363.69,137.25 364.50,137.53 365.32,137.79 366.15,138.04 366.72,138.21M374.13,139.52 374.89,139.58 375.67,139.64 376.46,139.71 377.24,139.79 378.02,139.88 378.80,140.00 379.58,140.13 380.35,140.28 381.13,140.43 381.90,140.59 382.61,140.73M389.91,142.44 390.60,142.62 391.48,142.84 392.36,143.07 393.23,143.30 394.07,143.52 394.87,143.73 395.63,143.93 396.33,144.11 396.96,144.27 397.50,144.40 397.94,144.50 398.13,144.53M405.13,146.75 405.18,146.77 405.79,147.02 406.37,147.27 406.90,147.50 407.39,147.72 407.85,147.94 408.29,148.15 408.71,148.36 409.13,148.57 409.53,148.78 409.94,149.00 410.35,149.22 410.78,149.45 411.23,149.69 411.70,149.94 412.20,150.20 412.46,150.33M418.82,153.63 418.87,153.67 419.40,154.00 419.88,154.33 420.32,154.64 420.73,154.95 421.11,155.26 421.48,155.57 421.84,155.89 422.21,156.22 422.59,156.57 422.98,156.94 423.41,157.33 423.88,157.75 424.40,158.20 424.79,158.53M430.05,162.87 430.47,163.25 431.17,163.91 431.85,164.59 432.50,165.30 433.13,166.03 433.76,166.79 434.39,167.56 435.01,168.37 435.04,168.40M438.62,173.70 439.08,174.48 439.60,175.40 440.10,176.35 440.59,177.33 441.06,178.35 441.53,179.39 441.79,180.02M444.03,185.75 444.35,186.65 444.70,187.60 445.02,188.50 445.32,189.33 445.60,190.13 445.86,190.89 446.11,191.64 446.32,192.31M447.78,198.19 447.94,198.96 448.18,200.17 448.43,201.43 448.67,202.73 448.91,204.08 449.05,204.92M449.96,210.88 450.06,211.60 450.28,213.27 450.50,215.00 450.71,216.79 450.80,217.64M451.41,223.63 451.50,224.61 451.69,226.70 451.87,228.83 452.01,230.41M452.51,236.40 452.61,237.72 452.80,240.00 452.99,242.34 453.05,243.18M453.50,249.17 453.55,249.81 453.73,252.40 453.92,255.00 453.99,255.96M454.41,261.95 454.47,262.73 454.65,265.23 454.82,267.66 454.91,268.74M455.37,274.73 455.53,276.60 455.70,278.70 455.87,280.77 455.94,281.52M456.43,287.50 456.54,288.87 456.70,290.89 456.85,292.93 456.95,294.29M457.35,300.28 457.43,301.47 457.57,303.68 457.70,305.89 457.77,307.07M458.12,313.07 458.19,314.40 458.30,316.37 458.40,318.24 458.49,319.86M458.77,325.86 458.79,326.48 458.85,327.88 458.91,329.28 458.96,330.66 459.02,332.01 459.05,332.65M459.38,338.65 459.49,340.52 459.63,342.63 459.77,344.90 459.81,345.44M460.19,351.43 460.23,352.01 460.37,354.28 460.50,356.41 460.60,358.22M460.90,364.22 461.00,366.45 461.12,369.21 461.20,371.02M461.45,377.01 461.50,378.17 461.62,381.07 461.73,383.80 461.73,383.81M461.99,389.81 462.00,390.00 462.07,391.49 462.14,393.15 462.22,394.92 462.30,396.60M462.58,402.60 462.67,404.37 462.76,406.12 462.84,407.73 462.92,409.17 462.94,409.39M463.37,415.38 463.47,416.69 463.62,418.62 463.78,420.58 463.91,422.17M464.42,428.15 464.50,429.11 464.60,430.20 464.69,431.21 464.80,432.34 464.92,433.58 465.05,434.88 465.05,434.94M465.66,440.92 465.70,441.28 465.81,442.32 465.91,443.20 465.99,443.90 466.07,444.52 466.16,445.20 466.26,445.91 466.36,446.64 466.47,447.38 466.52,447.68M467.39,453.64 467.40,453.72 467.44,454.08 467.49,454.41 467.52,454.71 467.56,454.96 467.58,455.16 467.60,455.30" fill="none" stroke="#b52a36" stroke-width="2.3" stroke-linejoin="round"/>
<path d="M590.50,427.90 590.53,427.93 590.57,427.95 590.61,427.96 590.67,427.99 590.73,428.02 590.80,428.07 590.88,428.15 590.97,428.26 591.06,428.42 591.17,428.62 591.28,428.88 591.40,429.20 591.56,429.69 591.78,430.41 592.05,431.33 592.37,432.39 592.71,433.56 592.94,434.33M594.78,440.15 595.00,440.70 595.24,441.17 595.52,441.65 595.85,442.12 596.20,442.59 596.57,443.06 596.95,443.52 597.34,443.98 597.72,444.44 598.09,444.89 598.43,445.33 598.73,445.77 598.93,446.09M601.55,451.72 601.72,452.12 602.17,453.09 602.60,454.00 603.01,454.81 603.38,455.49 603.70,456.00 604.04,456.44 604.46,456.91 604.95,457.41 605.33,457.78M610.65,462.06 610.74,462.12 611.20,462.44 611.67,462.75 612.15,463.06 612.63,463.34 613.09,463.59 613.53,463.79 613.94,463.93 614.30,464.01 614.60,464.00 614.90,463.91 615.26,463.73 615.67,463.48 616.10,463.17 616.56,462.81 617.02,462.40 617.46,461.97M620.22,456.46 620.37,455.89 620.67,454.63 620.97,453.32 621.27,452.00 621.56,450.71 621.77,449.77M623.25,443.89 623.44,443.19 623.72,442.14 624.01,441.10 624.30,440.09 624.58,439.15 624.85,438.32 625.09,437.63 625.24,437.27M628.92,440.97 628.93,441.01 629.20,441.95 629.49,443.04 629.80,444.22 630.11,445.47 630.43,446.74 630.66,447.63M632.25,453.50 632.30,453.67 632.62,454.70 632.96,455.81 633.33,456.98 633.71,458.17 634.09,459.35 634.33,460.10M636.52,465.84 636.61,466.03 636.99,466.82 637.39,467.62 637.81,468.42 638.22,469.21 638.63,469.96 639.02,470.65 639.39,471.27 639.72,471.79 639.92,472.09M644.97,476.43 645.17,476.40 645.47,476.25 645.80,476.02 646.16,475.72 646.52,475.37 646.90,474.97 647.27,474.54 647.63,474.09 647.97,473.65 648.28,473.21 648.56,472.81 648.80,472.44 649.04,472.02 649.32,471.47 649.62,470.85M652.12,465.19 652.37,464.62 652.60,464.13 652.82,463.67 653.08,463.14 653.36,462.56 653.67,461.94 653.99,461.29 654.31,460.63 654.64,459.98 654.96,459.35 655.21,458.84M658.16,453.31 658.30,453.06 658.62,452.49 658.93,451.95 659.23,451.44 659.50,450.98 659.81,450.47 660.22,449.85 660.70,449.13 661.23,448.34 661.81,447.48 661.99,447.21M665.32,441.82 665.40,441.67 665.72,440.96 666.09,440.07 666.50,439.04 666.94,437.90 667.39,436.69 667.85,435.43 667.88,435.33M669.89,429.54 670.10,428.90 670.35,428.11 670.63,427.17 670.93,426.10 671.25,424.95 671.59,423.74 671.81,422.91M673.42,417.05 673.47,416.88 673.70,416.08 673.94,415.28 674.24,414.31 674.57,413.21 674.94,412.01 675.33,410.76 675.43,410.43M677.30,404.62 677.54,403.90 677.80,403.19 678.06,402.54 678.36,401.81 678.71,401.01 679.08,400.18 679.47,399.32 679.88,398.46 680.02,398.17M682.97,392.64 683.02,392.56 683.46,391.91 683.91,391.24 684.38,390.56 684.84,389.88 685.30,389.22 685.72,388.57 686.10,387.97 686.44,387.42 686.70,386.94 686.87,386.58M688.95,380.81 689.02,380.60 689.33,379.81 689.63,379.11 689.92,378.54 690.20,378.12 690.52,377.79 690.92,377.48 691.39,377.18 691.92,376.89 692.49,376.61 693.08,376.34 693.68,376.08 694.23,375.86M700.63,372.62 700.86,372.49 701.59,372.07 702.28,371.66 702.91,371.26 703.46,370.88 703.90,370.52 704.32,370.13 704.80,369.64 705.33,369.07 705.89,368.43 706.48,367.74 706.50,367.72M710.21,362.49 710.32,362.27 710.69,361.48 711.09,360.55 711.51,359.51 711.95,358.41 712.40,357.26 712.83,356.11 712.87,356.02M714.98,350.25 715.17,349.70 715.51,348.70 715.87,347.62 716.25,346.48 716.63,345.32 717.01,344.18 717.17,343.68M719.13,337.88 719.17,337.77 719.27,337.43 719.38,337.01 719.50,336.50 719.64,335.88 719.80,335.14 720.02,334.06 720.32,332.52 720.58,331.18M721.72,325.24 722.07,323.44 722.55,320.87 722.99,318.52M724.05,312.58 724.16,311.94 724.40,310.48 724.59,309.13 724.79,307.57 724.99,305.85 725.00,305.82M725.63,299.84 725.79,298.29 725.98,296.44 726.15,294.71 726.32,293.12 726.32,293.06M727.01,287.09 727.09,286.38 727.29,284.64 727.50,282.85 727.71,281.05 727.81,280.31M728.71,274.36 728.74,274.24 728.90,273.75 729.08,273.61 729.30,273.71 729.55,274.01 729.84,274.50 730.14,275.12 730.45,275.85 730.77,276.65 731.07,277.49 731.35,278.33 731.61,279.15 731.61,279.17M732.79,285.09 732.93,286.04 733.13,287.49 733.34,288.96 733.54,290.40 733.73,291.78 733.74,291.85M734.61,297.81 734.69,298.35 734.89,299.71 735.10,301.14 735.31,302.60 735.53,304.05 735.61,304.56M736.72,310.50 736.88,311.09 737.12,311.92 737.38,312.77 737.66,313.64 737.96,314.50 738.26,315.33 738.55,316.11 738.84,316.81 738.96,317.06M744.98,319.21 745.11,319.14 745.53,318.91 745.98,318.65 746.43,318.37 746.88,318.09 747.32,317.83 747.73,317.58 748.11,317.38 748.43,317.22 748.70,317.13 748.95,317.10 749.25,317.10 749.57,317.13 749.91,317.18 750.27,317.25 750.63,317.32 750.99,317.40 751.35,317.47 751.68,317.53 751.99,317.57 752.27,317.58 752.50,317.55 752.68,317.51M757.37,313.25 757.59,312.70 758.00,311.69 758.42,310.63 758.84,309.55 759.26,308.51 759.66,307.52 759.98,306.77M763.54,301.48 763.60,301.41 764.19,300.70 764.75,300.02 765.28,299.38 765.76,298.78 766.17,298.25 766.50,297.80 766.80,297.36 767.14,296.84 767.51,296.28 767.90,295.66 767.92,295.63M771.06,290.17 771.07,290.14 771.39,289.44 771.75,288.63 772.14,287.72 772.56,286.76 772.98,285.76 773.40,284.76 773.81,283.78 773.83,283.73M776.10,278.00 776.26,277.58 776.60,276.65 776.95,275.71 777.29,274.77 777.63,273.85 777.94,272.98 778.23,272.18 778.49,271.47 778.49,271.46M780.49,265.67 780.69,265.07 780.99,264.18 781.27,263.35 781.52,262.61 781.73,261.98 781.90,261.49 782.04,261.06 782.19,260.58 782.34,260.08 782.50,259.57 782.64,259.09M785.63,253.65 785.83,253.44 786.08,253.20 786.30,252.99 786.50,252.82 786.71,252.67 786.97,252.51 787.28,252.33 787.62,252.16 787.98,251.98 788.35,251.79 788.72,251.61 789.08,251.44 789.42,251.26 789.73,251.10 789.99,250.95 790.20,250.81 790.40,250.67 790.62,250.49 790.87,250.29 791.13,250.06 791.40,249.82 791.67,249.57 791.94,249.32 792.06,249.20M794.98,243.71 794.99,243.68 795.09,243.32 795.19,242.93 795.30,242.49 795.41,242.02 795.52,241.52 795.63,241.01 795.75,240.49 795.86,239.97 795.98,239.45 796.09,238.94 796.20,238.45 796.33,237.87 796.50,237.11 796.52,237.02M797.83,231.11 797.94,230.59 798.19,229.48 798.42,228.46 798.62,227.56 798.80,226.80 798.98,226.04 799.20,225.13 799.37,224.42M800.80,218.52 800.90,218.14 801.18,217.01 801.45,215.98 801.69,215.06 801.90,214.30 802.12,213.55 802.38,212.67 802.62,211.88M804.49,206.06 804.81,205.08 805.14,204.10 805.44,203.24 805.70,202.50 805.97,201.76 806.31,200.88 806.70,199.88 806.84,199.52M809.14,193.80 809.42,193.13 809.83,192.14 810.19,191.27 810.50,190.54 810.81,189.80 811.18,188.92 811.60,187.93 811.85,187.34M814.36,181.68 814.51,181.34 814.96,180.45 815.36,179.70 815.70,179.13 816.06,178.64 816.49,178.13 816.99,177.61 817.54,177.08 818.12,176.56 818.72,176.04 818.83,175.94M824.07,171.58 824.27,171.41 824.86,170.93 825.45,170.45 826.02,169.98 826.55,169.55 827.04,169.15 827.46,168.81 827.80,168.53 828.12,168.26 828.48,167.94 828.87,167.58 829.29,167.19 829.72,166.79 829.94,166.60M836.06,166.50 836.38,166.70 836.72,166.91 837.00,167.08 837.28,167.27 837.61,167.54 837.99,167.86 838.39,168.22 838.82,168.60 839.25,168.98 839.68,169.33 840.11,169.65 840.51,169.90 840.89,170.08 841.22,170.15 841.50,170.11 841.78,169.90 842.11,169.53 842.30,169.26M845.57,163.84 845.78,163.53 846.10,163.13 846.44,162.79 846.87,162.40 847.36,161.99 847.91,161.55 848.49,161.11 849.09,160.67 849.69,160.23 850.28,159.81 850.84,159.42 851.36,159.07 851.52,158.97M857.94,155.74 858.01,155.70 858.30,155.53 858.52,155.35 858.73,155.15 858.93,154.92 859.12,154.67 859.31,154.41 859.48,154.15 859.65,153.89 859.82,153.63 859.99,153.40 860.16,153.19 860.33,153.01 860.50,152.86 860.71,152.72 860.98,152.54 861.30,152.34 861.66,152.13 862.05,151.92 862.45,151.70 862.86,151.51 863.27,151.33 863.65,151.19 863.94,151.11M869.66,154.74 869.73,154.77 870.12,154.90 870.55,155.03 871.00,155.15 871.46,155.25 871.91,155.32 872.35,155.36 872.76,155.35 873.13,155.28 873.45,155.16 873.70,154.97 873.93,154.64 874.18,154.11 874.45,153.43 874.73,152.62 875.02,151.74 875.03,151.74M877.01,145.95 877.21,145.59 877.46,145.18 877.73,144.75 878.01,144.34 878.30,143.96 878.59,143.61 878.87,143.33 879.14,143.12 879.39,143.01 879.61,143.00 879.80,143.12 879.99,143.41 880.22,143.92 880.48,144.60 880.75,145.42 880.90,145.88M882.57,151.73 882.71,152.27 882.90,153.00 883.09,153.79 883.31,154.80 883.56,156.00 883.83,157.32 884.05,158.43M885.28,164.35 885.49,165.25 885.71,166.11 885.90,166.70 886.08,167.13 886.30,167.55 886.54,167.93 886.80,168.27 887.08,168.58 887.36,168.83 887.65,169.03 887.93,169.17 888.20,169.25 888.46,169.25 888.69,169.17 888.90,169.00 889.12,168.67 889.20,168.53M891.48,162.81 891.62,162.42 891.97,161.42 892.30,160.51 892.58,159.72 892.80,159.10 893.01,158.49 893.24,157.74 893.50,156.89 893.69,156.23M895.53,150.41 895.62,150.22 895.80,149.90 895.99,149.72 896.21,149.62 896.45,149.58 896.72,149.61 897.01,149.69 897.30,149.82 897.59,150.00 897.87,150.22 898.14,150.47 898.39,150.76 898.61,151.07 898.80,151.40 898.99,151.85 899.21,152.51 899.46,153.33 899.71,154.21M901.30,160.08 901.45,160.63 901.69,161.45 901.90,162.10 902.12,162.71 902.39,163.42 902.71,164.21 903.06,165.05 903.42,165.93 903.70,166.60M906.11,172.30 906.14,172.38 906.40,173.01 906.67,173.69 906.96,174.39 907.25,175.10 907.54,175.82 907.83,176.52 908.10,177.19 908.36,177.82 908.59,178.40 908.75,178.77M911.09,184.48 911.45,185.34 911.80,186.16 912.11,186.90 912.38,187.52 912.60,188.00 912.80,188.42 913.04,188.89 913.29,189.38 913.56,189.90 913.84,190.42 914.09,190.85M918.32,195.69 918.49,195.69 918.70,195.60 918.92,195.35 919.20,194.91 919.51,194.32 919.86,193.61 920.23,192.82 920.60,191.99 920.98,191.15 921.35,190.33 921.69,189.58M926.11,186.40 926.18,186.49 926.45,186.95 926.75,187.46 927.05,188.00 927.35,188.54 927.65,189.05 927.92,189.51 928.18,189.89 928.41,190.16 928.60,190.30 928.79,190.34 929.01,190.32 929.26,190.25 929.53,190.14 929.81,189.98 930.10,189.79 930.39,189.56 930.68,189.30 930.95,189.00 930.97,188.97M933.05,183.23 933.10,183.06 933.39,181.96 933.67,180.88 933.94,179.84 934.19,178.87 934.41,178.02 934.60,177.30 934.79,176.57M936.20,170.67 936.45,169.63 936.75,168.45 937.03,167.38 937.28,166.45 937.51,165.71 937.70,165.20 937.89,164.84 938.11,164.51 938.36,164.21 938.42,164.15M942.28,167.24 942.55,168.00 942.85,168.81 943.12,169.58 943.38,170.28 943.61,170.86 943.80,171.30 943.99,171.69 944.21,172.12 944.45,172.58 944.71,173.07 944.99,173.57 945.04,173.67M948.46,179.03 948.73,179.41 949.11,179.91 949.48,180.37 949.83,180.74 950.14,181.02 950.40,181.18 950.60,181.20 950.77,181.03 950.96,180.69 951.15,180.19 951.35,179.58 951.55,178.88 951.75,178.13 951.95,177.39M954.59,171.81 954.77,171.58 955.15,171.11 955.52,170.68 955.88,170.31 956.20,170.01 956.48,169.80 956.70,169.70 956.91,169.71 957.15,169.80 957.42,169.97 957.71,170.20 958.01,170.48 958.31,170.80 958.61,171.15 958.90,171.50 959.17,171.86 959.42,172.20 959.63,172.52 959.80,172.80 959.81,172.83M961.98,178.57 962.01,178.66 962.10,178.90" fill="none" stroke="#b52a36" stroke-width="2.3" stroke-linejoin="round"/>
<path d="M117.00,59.90 117.35,60.12 117.80,60.38 118.33,60.69 118.93,61.03 119.58,61.40 120.26,61.81 120.95,62.23 121.65,62.68 122.33,63.15 122.97,63.62 123.57,64.11 123.67,64.20M126.83,69.62 126.97,69.91 127.33,70.59 127.69,71.15 128.05,71.54 128.42,71.74 128.80,71.70 129.19,71.38 129.57,70.80 129.95,70.00 130.34,69.02 130.67,68.05M132.60,62.24 132.63,62.15 133.01,61.27 133.40,60.60 133.79,60.09 134.19,59.66 134.59,59.32 134.99,59.04 135.39,58.83 135.79,58.67 136.19,58.55 136.59,58.47 136.98,58.41 137.36,58.37 137.74,58.33 138.10,58.30 138.45,58.27 138.64,58.25M143.75,62.17 143.77,62.21 144.26,63.02 144.75,63.84 145.24,64.66 145.73,65.43 146.20,66.12 146.66,66.72 147.09,67.19 147.50,67.50 147.88,67.65 148.23,67.68 148.30,67.66M153.85,63.68 153.91,63.64 154.36,63.42 154.82,63.22 155.29,63.03 155.75,62.86 156.23,62.72 156.70,62.60 157.19,62.51 157.70,62.44 158.23,62.39 158.77,62.35 159.32,62.33 159.86,62.33 160.40,62.34 160.93,62.37 161.44,62.41 161.92,62.46 162.12,62.49M168.57,65.56 168.94,65.73 169.43,65.96 169.93,66.19 170.42,66.43 170.92,66.68 171.41,66.93 171.90,67.20 172.39,67.47 172.88,67.74 173.38,68.02 173.89,68.30 174.40,68.59 174.91,68.89 175.42,69.21 175.70,69.38M180.58,73.95 180.73,74.14 181.19,74.70 181.64,75.24 182.09,75.76 182.54,76.23 182.97,76.65 183.40,77.00 183.81,77.30 184.21,77.57 184.59,77.81 184.97,78.03 185.33,78.21 185.70,78.36 186.07,78.48 186.44,78.56 186.59,78.58M193.46,76.43 193.87,76.13 194.40,75.70 194.92,75.21 195.45,74.62 195.97,73.97 196.50,73.27 197.03,72.53 197.55,71.78 198.07,71.03 198.23,70.81M202.90,66.13 202.94,66.10 203.39,65.85 203.84,65.64 204.29,65.47 204.74,65.35 205.19,65.28 205.64,65.26 206.10,65.30 206.56,65.41 207.03,65.61 207.49,65.89 207.96,66.22 208.43,66.60 208.90,67.01 209.37,67.45 209.83,67.89 209.90,67.96M215.02,72.40 215.04,72.41 215.44,72.67 215.86,72.90 216.30,73.10 216.77,73.27 217.26,73.40 217.78,73.50 218.31,73.59 218.85,73.65 219.40,73.69 219.95,73.73 220.49,73.76 221.02,73.79 221.54,73.82 222.03,73.85 222.50,73.90 222.93,73.97 223.23,74.03M230.12,72.91 230.15,72.89 230.81,72.47 231.48,72.05 232.17,71.61 232.86,71.18 233.57,70.76 234.28,70.36 235.00,70.00 235.73,69.65 236.47,69.30 237.15,68.98M243.93,66.25 244.40,66.10 245.19,65.87 245.99,65.66 246.79,65.47 247.59,65.29 248.40,65.13 249.20,64.98 250.00,64.84 250.79,64.71 251.56,64.58 252.25,64.47M259.70,63.23 259.91,63.20 260.50,63.12 261.06,63.06 261.60,63.00 262.09,62.95 262.51,62.91 262.89,62.88 263.23,62.86 263.55,62.84 263.86,62.83 264.17,62.83 264.51,62.84 264.87,62.87 265.29,62.90 265.76,62.94 266.30,63.00 266.91,63.07 267.56,63.17 268.26,63.29M275.72,64.51 276.47,64.59 277.37,64.66 278.31,64.73 279.26,64.79 280.22,64.84 281.19,64.89 282.16,64.95 283.11,65.00 284.04,65.06 284.32,65.08M291.75,66.36 292.31,66.49 292.96,66.63 293.65,66.77 294.40,66.90 295.20,67.02 296.05,67.14 296.94,67.24 297.86,67.34 298.80,67.45 299.75,67.55 300.23,67.60M307.61,69.03 307.79,69.08 308.60,69.34 309.40,69.62 310.19,69.90 310.97,70.19 311.74,70.48 312.50,70.77 313.24,71.05 313.98,71.33 314.70,71.60 315.40,71.87 315.44,71.88M322.22,74.61 322.50,74.70 323.23,74.91 323.97,75.11 324.74,75.31 325.51,75.50 326.30,75.69 327.10,75.86 327.90,76.03 328.71,76.17 329.51,76.31 330.31,76.42 330.52,76.45M338.11,76.36 338.29,76.35 339.06,76.30 339.83,76.27 340.57,76.27 341.30,76.30 342.01,76.36 342.69,76.43 343.36,76.51 344.02,76.61 344.66,76.72 345.30,76.84 345.93,76.97 346.56,77.11 346.63,77.13M353.55,79.58 354.18,79.86 354.84,80.14 355.51,80.41 356.19,80.66 356.90,80.90 357.63,81.13 358.38,81.35 359.14,81.57 359.92,81.79 360.71,82.00 361.51,82.20 361.51,82.20M368.85,83.79 369.40,83.89 370.18,84.02 370.95,84.15 371.72,84.27 372.50,84.39 373.27,84.50 374.05,84.60 374.82,84.70 375.60,84.80 376.38,84.89 377.14,84.96 377.35,84.98M384.93,85.59 385.00,85.60 385.88,85.72 386.81,85.87 387.78,86.03 388.77,86.20 389.78,86.38 390.78,86.56 391.76,86.74 392.71,86.92 393.36,87.04M400.81,88.29 401.06,88.35 401.41,88.44 401.77,88.53 402.13,88.63 402.51,88.74 402.90,88.86 403.31,89.00 403.74,89.15 404.20,89.31 404.70,89.50 405.23,89.71 405.80,89.94 406.41,90.20 407.03,90.47 407.68,90.75 408.34,91.04 408.61,91.16M415.33,93.99 415.34,93.99 415.94,94.22 416.53,94.46 417.13,94.71 417.72,94.97 418.32,95.26 418.91,95.57 419.50,95.90 420.10,96.27 420.70,96.67 421.30,97.09 421.90,97.54 422.35,97.88M427.73,102.13 428.00,102.33 428.48,102.68 428.95,103.03 429.41,103.37 429.86,103.71 430.30,104.05 430.73,104.40 431.16,104.75 431.58,105.12 432.00,105.50 432.40,105.88 432.79,106.23 433.16,106.58 433.51,106.93 433.65,107.07M437.65,112.16 437.96,112.62 438.49,113.41 439.03,114.24 439.57,115.10 440.12,115.98 440.66,116.89 441.18,117.81 441.43,118.28M443.97,123.93 444.16,124.44 444.51,125.43 444.84,126.44 445.17,127.47 445.49,128.51 445.80,129.56 446.07,130.52M447.62,136.40 447.81,137.23 448.07,138.37 448.32,139.52 448.57,140.69 448.81,141.89 449.04,143.10M450.01,149.06 450.11,149.79 450.30,151.24 450.49,152.72 450.67,154.23 450.85,155.77 450.86,155.82M451.47,161.80 451.50,162.09 451.65,163.69 451.80,165.30 451.94,166.91 452.07,168.52 452.08,168.59M452.51,174.58 452.54,175.07 452.65,176.75 452.76,178.46 452.87,180.19 452.94,181.37M453.31,187.36 453.32,187.42 453.43,189.19 453.54,190.93 453.66,192.67 453.75,194.15M454.11,200.15 454.11,200.19 454.23,202.36 454.35,204.69 454.46,206.94M454.73,212.94 454.73,213.06 454.87,216.42 455.00,219.73M455.23,225.73 455.31,227.80 455.46,231.84 455.49,232.53M455.71,238.52 455.76,239.98 455.90,243.97 455.95,245.32M456.17,251.32 456.17,251.53 456.30,255.00 456.41,258.12M456.60,264.11 456.62,264.57 456.71,267.59 456.80,270.55 456.81,270.91M457.00,276.91 457.07,279.07 457.16,281.84 457.23,283.71M457.49,289.70 457.50,290.00 457.64,292.72 457.79,295.45 457.85,296.50M458.23,302.49 458.30,303.58 458.48,306.21 458.66,308.77 458.69,309.28M459.10,315.27 459.14,315.89 459.28,318.02 459.40,320.00 459.47,321.29 459.51,322.07M459.77,328.06 459.77,328.09 459.82,329.45 459.87,330.78 459.93,332.09 459.98,333.35 460.04,334.55 460.06,334.86M460.41,340.85 460.53,342.63 460.67,344.90 460.83,347.25 460.85,347.64M461.23,353.64 461.27,354.28 461.40,356.41 461.51,358.34 461.60,360.00 461.62,360.43M461.90,366.42 461.90,366.45 462.02,369.21 462.14,372.15 462.19,373.22M462.44,379.22 462.52,381.07 462.63,383.80 462.73,386.01M462.99,392.01 463.04,393.15 463.12,394.92 463.21,396.79 463.30,398.70 463.30,398.81M463.59,404.80 463.66,406.12 463.74,407.73 463.82,409.17 463.90,410.40 463.98,411.59M464.45,417.58 464.54,418.62 464.70,420.58 464.87,422.53 465.02,424.37M465.51,430.36 465.57,431.21 465.65,432.34 465.73,433.58 465.82,434.88 465.90,436.22 465.96,437.15M466.35,443.14 466.35,443.20 466.40,443.90 466.45,444.52 466.51,445.20 466.57,445.91 466.63,446.64 466.70,447.38 466.77,448.11 466.83,448.82 466.90,449.49 466.94,449.92M467.77,454.86 467.82,454.71 467.97,454.18 468.15,453.55 468.34,452.81 468.55,452.01 468.76,451.16 468.97,450.28 469.17,449.40 469.37,448.55 469.45,448.19M470.58,442.26 470.86,440.68 471.16,439.01 471.46,437.33 471.75,435.66 471.77,435.52M472.81,429.58 472.89,429.09 473.11,427.74 473.36,426.19 473.63,424.50 473.90,422.83M474.89,416.89 475.09,415.72 475.35,414.25 475.59,412.99 475.80,412.00 476.02,411.10 476.28,410.18M478.14,404.36 478.45,403.42 478.80,402.38 479.11,401.41 479.38,400.55 479.60,399.80 479.81,399.05 480.05,398.16 480.16,397.75M481.66,391.87 481.75,391.47 482.01,390.37 482.25,389.34 482.44,388.41 482.60,387.60 482.74,386.75 482.89,385.71 482.96,385.15M483.67,379.17 483.69,378.96 483.85,377.58 484.00,376.29 484.15,375.12 484.28,374.11 484.40,373.30 484.53,372.55 484.56,372.41M485.78,366.49 485.97,365.65 486.18,364.75 486.38,363.93 486.55,363.24 486.70,362.70 486.84,362.22 487.01,361.70 487.20,361.15 487.41,360.59 487.62,360.02 487.69,359.86M490.83,354.43 490.85,354.40 491.21,353.96 491.56,353.54 491.90,353.12 492.21,352.72 492.48,352.35 492.70,352.00 492.92,351.61 493.17,351.12 493.45,350.55 493.75,349.90 494.07,349.22 494.40,348.51 494.50,348.31M497.50,342.80 497.56,342.70 498.00,342.02 498.45,341.35 498.91,340.70 499.37,340.10 499.82,339.57 500.25,339.15 500.65,338.85 501.00,338.70 501.39,338.70 501.90,338.81 502.50,339.03 503.11,339.30M508.78,343.25 509.04,343.60 509.37,344.07 509.70,344.58 510.02,345.11 510.33,345.67 510.63,346.23 510.91,346.80 511.17,347.35 511.40,347.89 511.60,348.40 511.80,349.01 511.95,349.54M513.38,355.44 513.41,355.56 513.69,356.75 513.96,357.86 514.20,358.85 514.42,359.67 514.60,360.30 514.78,360.84 515.00,361.44 515.24,362.07 515.24,362.07M518.33,367.47 518.42,367.53 518.70,367.66 519.00,367.77 519.29,367.83 519.57,367.86 519.84,367.83 520.09,367.75 520.31,367.61 520.50,367.40 520.69,367.05 520.90,366.50 521.15,365.80 521.41,364.97 521.69,364.05 521.98,363.07 522.07,362.75M523.83,356.91 523.95,356.55 524.22,355.70 524.52,354.78 524.84,353.81 525.17,352.83 525.51,351.86 525.84,350.95 526.08,350.34M531.45,346.85 531.50,346.83 531.80,346.70 532.09,346.51 532.44,346.23 532.83,345.90 533.26,345.52 533.70,345.12 534.15,344.70 534.61,344.30 535.05,343.93 535.47,343.61 535.86,343.35 536.21,343.17 536.50,343.10 536.79,343.13 537.14,343.25 537.53,343.44 537.92,343.67M543.62,347.66 543.65,347.68 544.12,348.00 544.58,348.33 545.01,348.66 545.40,348.98 545.73,349.30 546.00,349.60 546.25,349.96 546.52,350.42 546.83,350.98 547.14,351.60 547.47,352.27 547.80,352.97 547.98,353.37M550.53,359.03 550.58,359.13 550.91,359.89 551.25,360.67 551.59,361.44 551.93,362.18 552.26,362.87 552.57,363.48 552.85,364.00 553.10,364.40 553.37,364.74 553.70,365.11 553.86,365.27M559.03,369.68 559.31,369.92 559.65,370.23 559.99,370.54 560.32,370.86 560.63,371.18 560.92,371.49 561.18,371.80 561.40,372.10 561.62,372.45 561.88,372.92 562.17,373.47 562.49,374.09 562.82,374.76 563.16,375.45 563.20,375.55M565.74,381.21 565.94,381.71 566.26,382.49 566.58,383.30 566.91,384.11 567.23,384.90 567.53,385.65 567.82,386.32 568.08,386.92 568.30,387.40 568.43,387.67M571.42,393.19 571.58,393.45 571.91,393.97 572.20,394.40 572.53,394.84 572.96,395.35 573.46,395.93 574.03,396.56 574.63,397.22 575.25,397.90 575.87,398.59 576.12,398.87M579.72,404.13 580.01,404.72 580.38,405.51 580.75,406.30 581.11,407.08 581.45,407.81 581.77,408.49 582.05,409.09 582.30,409.60 582.55,410.10 582.76,410.50M585.62,416.06 585.84,416.52 586.15,417.15 586.40,417.70 586.66,418.29 586.98,419.04 587.34,419.90 587.73,420.85 588.15,421.86 588.40,422.50M590.60,428.24 590.64,428.36 590.77,428.84 590.89,429.35 590.99,429.86 591.09,430.39 591.19,430.91 591.28,431.43 591.37,431.93 591.47,432.42 591.57,432.88 591.68,433.31 591.80,433.70 591.95,434.14 592.15,434.68 592.24,434.91M594.64,440.60 594.78,440.88 595.00,441.30 595.24,441.67 595.53,442.08 595.87,442.52 596.25,442.97 596.65,443.44 597.06,443.91 597.47,444.38 597.87,444.84 598.24,445.28 598.58,445.69 598.87,446.07 599.10,446.40 599.10,446.40M601.85,452.00 601.91,452.13 602.10,452.50 602.29,452.87 602.50,453.31 602.74,453.80 603.00,454.34 603.28,454.90 603.57,455.47 603.86,456.03 604.15,456.56 604.43,457.05 604.70,457.48 604.96,457.84 605.20,458.10 605.32,458.20M612.32,460.06 612.79,460.02 613.29,459.96 613.77,459.89 614.23,459.82 614.65,459.75 615.01,459.67 615.30,459.60 615.58,459.53 615.91,459.44 616.28,459.35 616.67,459.23 617.07,459.11 617.48,458.96 617.88,458.80 618.26,458.61 618.62,458.40 618.93,458.16 619.20,457.90 619.40,457.60 619.57,457.20 619.60,457.13M620.89,451.22 621.00,450.61 621.14,449.78 621.28,449.03 621.40,448.40 621.53,447.74 621.67,446.93 621.84,445.98 622.03,444.94 622.11,444.49M623.16,438.54 623.29,437.88 623.40,437.30 623.50,436.79 623.62,436.21 623.74,435.59 623.87,434.95 624.00,434.30 624.14,433.66 624.28,433.06 624.42,432.51 624.57,432.03 624.63,431.85M628.87,435.21 629.01,435.68 629.19,436.37 629.37,437.12 629.56,437.91 629.74,438.72 629.91,439.52 630.08,440.30 630.24,441.04 630.38,441.71 630.42,441.90M631.50,447.84 631.51,447.90 631.71,449.03 631.90,450.12 632.10,451.15 632.28,452.07 632.45,452.87 632.60,453.50 632.76,454.08 632.90,454.54M634.99,460.31 635.14,460.66 635.39,461.19 635.60,461.60 635.83,461.97 636.12,462.38 636.45,462.81 636.83,463.26 637.22,463.71 637.63,464.15 638.04,464.59 638.44,465.00 638.81,465.37 639.16,465.70 639.46,465.98 639.52,466.04M645.92,467.34 645.99,467.30 646.29,467.11 646.57,466.91 646.80,466.70 647.04,466.43 647.33,466.06 647.65,465.60 648.01,465.07 648.39,464.49 648.77,463.89 649.16,463.26 649.55,462.65 649.91,462.06 650.24,461.51M653.50,456.09 653.80,455.58 654.18,454.94 654.51,454.38 654.79,453.91 655.00,453.55 655.17,453.27 655.35,453.00 655.52,452.73 655.69,452.48 655.86,452.22 656.03,451.96 656.20,451.70 656.38,451.42 656.55,451.12 656.73,450.80 656.91,450.45 657.10,450.07 657.16,449.93M659.64,444.26 659.84,443.78 660.31,442.69 660.75,441.67 661.16,440.74 661.51,439.94 661.80,439.32 662.07,438.75 662.40,438.13 662.54,437.86M665.45,432.31 665.46,432.30 665.76,431.65 666.00,431.06 666.23,430.41 666.51,429.61 666.81,428.67 667.13,427.63 667.46,426.52 667.69,425.75M669.34,419.89 669.50,419.30 669.70,418.52 669.93,417.58 670.18,416.52 670.45,415.35 670.73,414.13 670.94,413.21M672.28,407.30 672.31,407.14 672.50,406.33 672.69,405.51 672.91,404.52 673.16,403.40 673.43,402.18 673.71,400.90 673.78,400.61M675.13,394.70 675.32,393.96 675.50,393.25 675.68,392.63 675.89,391.95 676.12,391.23 676.37,390.48 676.63,389.72 676.90,388.95 677.17,388.19 677.20,388.10M679.59,382.41 679.62,382.33 680.02,381.51 680.43,380.67 680.84,379.81 681.25,378.97 681.64,378.15 682.00,377.37 682.33,376.66 682.60,376.03M684.82,370.29 684.95,369.95 685.41,368.73 685.85,367.55 686.26,366.44 686.63,365.43 686.95,364.56 687.20,363.87 687.24,363.77M689.06,357.94 689.23,357.38 689.49,356.60 689.74,355.89 689.98,355.29 690.20,354.80 690.45,354.36 690.75,353.86 691.11,353.34 691.50,352.78 691.93,352.22 692.33,351.70M696.73,346.80 697.24,346.31 697.85,345.73 698.47,345.14 699.06,344.57 699.62,344.03 700.12,343.52 700.56,343.08 700.90,342.70 701.22,342.32 701.58,341.87 701.95,341.40M705.70,336.17 705.95,335.83 706.27,335.38 706.62,334.90 706.98,334.40 707.35,333.87 707.72,333.32 708.09,332.76 708.43,332.19 708.76,331.62 709.05,331.06 709.30,330.50 709.47,330.07M711.49,324.29 711.90,323.01 712.32,321.67 712.72,320.34 713.09,319.07 713.42,317.88 713.47,317.67M714.81,311.76 715.15,310.10 715.60,307.89 716.06,305.59 716.17,305.05M717.33,299.12 717.37,298.92 717.74,296.99 718.05,295.33 718.30,294.00 718.53,292.76 718.59,292.39M719.65,286.45 719.93,284.79 720.22,283.07 720.49,281.39 720.74,279.77 720.75,279.71M721.48,273.74 721.55,272.96 721.67,271.25 721.80,269.39 721.92,267.41 721.95,266.94M722.32,260.95 722.42,259.32 722.55,257.49 722.67,255.83 722.80,254.40 722.82,254.16M723.49,248.19 723.69,246.53 723.99,244.04 724.30,241.47 724.31,241.42M725.04,235.45 725.22,234.07 725.48,231.94 725.71,230.09 725.89,228.68M726.58,222.70 726.74,221.27 726.98,219.07 727.24,216.88 727.35,215.93M728.16,209.96 728.21,209.64 728.42,208.59 728.60,208.00 728.80,207.83 729.04,207.98 729.33,208.40 729.64,209.03 729.98,209.84 730.32,210.77 730.66,211.78 730.76,212.08M732.33,217.95 732.34,218.02 732.52,219.08 732.72,220.26 732.91,221.52 733.11,222.84 733.31,224.19 733.39,224.70M734.29,230.66 734.37,231.13 734.59,232.43 734.84,233.94 735.11,235.61 735.41,237.38 735.41,237.40M736.42,243.35 736.61,244.46 736.88,245.97 737.11,247.27 737.30,248.30 737.49,249.28 737.65,250.08M738.85,256.01 739.09,257.13 739.37,258.41 739.64,259.57 739.89,260.58 740.11,261.41 740.30,262.00 740.49,262.45 740.59,262.66M745.40,263.09 745.50,262.97 745.86,262.57 746.22,262.23 746.56,261.95 746.89,261.77 747.20,261.70 747.56,261.78 748.03,262.00 748.59,262.32 749.22,262.72 749.90,263.17 750.60,263.64 751.30,264.10 751.98,264.50 752.02,264.53M755.93,261.14 755.99,260.96 756.33,259.96 756.66,258.97 756.98,258.03 757.28,257.18 757.55,256.46 757.80,255.90 758.07,255.39 758.40,254.81 758.49,254.66M761.84,249.27 762.12,248.80 762.40,248.34 762.66,247.89 762.97,247.38 763.30,246.82 763.66,246.22 764.03,245.58 764.41,244.92 764.80,244.24 765.18,243.56 765.43,243.09M767.87,237.41 768.15,236.67 768.68,235.25 769.23,233.76 769.78,232.27 770.29,230.88M772.40,225.12 772.66,224.41 773.05,223.35 773.48,222.22 773.91,221.03 774.35,219.83 774.79,218.64 774.81,218.59M776.80,212.80 776.96,212.28 777.21,211.41 777.47,210.48 777.74,209.50 778.01,208.50 778.28,207.48 778.55,206.47 778.64,206.15M780.12,200.27 780.38,199.17 780.77,197.53 781.18,195.79 781.60,193.99 781.70,193.58M783.14,187.69 783.17,187.58 783.46,186.48 783.70,185.70 783.91,185.11 784.14,184.57 784.39,184.06 784.65,183.59 784.91,183.16 785.18,182.76 785.46,182.40 785.72,182.08 785.99,181.79 786.24,181.54 786.33,181.46M792.35,178.35 792.62,177.88 792.92,177.35 793.21,176.78 793.49,176.20 793.75,175.61 793.99,175.02 794.21,174.45 794.40,173.89 794.59,173.23 794.81,172.35 794.92,171.89M796.22,165.97 796.48,164.75 796.75,163.47 796.99,162.29 797.21,161.25 797.40,160.39 797.59,159.55 797.65,159.27M798.96,153.36 799.23,152.12 799.52,150.84 799.79,149.63 800.03,148.55 800.23,147.63 800.40,146.89 800.45,146.66M801.81,140.76 801.97,140.10 802.15,139.34 802.33,138.62 802.50,137.93 802.70,137.14 802.97,136.12 803.29,134.91 803.51,134.09M805.07,128.22 805.23,127.64 805.60,126.25 805.95,125.00 806.25,123.92 806.50,123.05 806.74,122.23 806.94,121.58M808.75,115.75 808.77,115.67 809.13,114.58 809.47,113.55 809.79,112.63 810.06,111.85 810.30,111.23 810.53,110.67 810.81,110.05 811.12,109.39 811.20,109.23M814.29,103.76 814.37,103.67 814.69,103.29 815.06,102.89 815.46,102.47 815.89,102.04 816.34,101.62 816.79,101.20 817.23,100.80 817.65,100.43 818.04,100.10 818.40,99.82 818.70,99.58 819.01,99.37 819.40,99.15 819.84,98.92 820.10,98.78M825.72,94.87 825.91,94.64 826.36,94.11 826.81,93.57 827.24,93.06 827.64,92.57 828.01,92.14 828.33,91.78 828.60,91.50 828.86,91.25 829.15,90.97 829.48,90.67 829.83,90.35 830.20,90.03 830.57,89.71 830.90,89.44M836.12,91.44 836.37,91.99 836.67,92.69 836.98,93.41 837.28,94.14 837.58,94.85 837.86,95.52 838.11,96.12 838.33,96.63 838.50,97.02 838.66,97.39 838.84,97.82 838.86,97.88M841.95,100.07 841.95,100.07 842.24,99.51 842.53,98.93 842.82,98.34 843.10,97.76 843.36,97.23 843.59,96.74 843.80,96.34 844.02,95.91 844.28,95.37 844.58,94.73 844.91,94.01 845.05,93.73M848.14,88.27 848.19,88.23 848.56,87.92 848.96,87.62 849.39,87.32 849.84,87.04 850.29,86.78 850.73,86.54 851.15,86.33 851.54,86.15 851.90,86.02 852.20,85.93 852.51,85.89 852.90,85.90 853.34,85.95 853.82,86.02 854.32,86.12 854.84,86.22 855.37,86.32 855.69,86.38M861.56,83.23 861.65,83.16 861.97,82.89 862.23,82.69 862.46,82.51 862.72,82.30 862.99,82.07 863.28,81.83 863.58,81.58 863.88,81.35 864.17,81.14 864.46,80.96 864.73,80.82 864.98,80.72 865.21,80.69 865.41,80.73 865.61,80.88 865.85,81.13 866.13,81.48 866.43,81.91 866.75,82.38 867.07,82.89 867.19,83.09M870.24,88.59 870.47,88.99 870.71,89.35 870.93,89.62 871.15,89.80 871.34,89.85 871.56,89.78 871.84,89.58 872.17,89.29 872.54,88.91 872.93,88.47 873.34,87.98 873.75,87.47 874.14,86.95 874.51,86.43 874.85,85.94 875.07,85.60M877.36,79.88 877.53,79.41 877.79,78.68 878.02,78.06 878.23,77.55 878.40,77.20 878.56,76.93 878.73,76.64 878.92,76.36 879.13,76.08 879.33,75.83 879.55,75.61 879.76,75.43 879.97,75.30 880.17,75.24 880.36,75.25 880.54,75.35 880.70,75.55 880.88,75.91 881.09,76.48M882.84,82.32 882.87,82.42 883.15,83.48 883.41,84.46 883.63,85.33 883.80,86.04 883.96,86.75 884.13,87.60 884.32,88.58 884.40,89.00M885.46,94.94 885.53,95.36 885.70,96.39 885.86,97.31 886.00,98.10 886.14,98.94 886.30,100.00 886.49,101.22 886.55,101.69M887.46,107.65 887.55,108.17 887.76,109.39 887.96,110.43 888.14,111.25 888.30,111.80 888.47,112.18 888.69,112.50 888.94,112.77 889.22,112.99 889.52,113.16 889.82,113.26 890.13,113.30 890.43,113.28 890.60,113.22M892.71,107.59 892.90,106.71 893.19,105.37 893.47,104.03 893.74,102.74 893.99,101.55 894.13,100.88M895.29,94.96 895.35,94.63 895.65,93.04 895.95,91.43 896.25,89.85 896.55,88.36 896.57,88.23M899.49,83.91 899.57,83.96 899.84,84.20 900.09,84.47 900.31,84.77 900.50,85.10 900.69,85.56 900.92,86.25 901.18,87.13 901.45,88.14 901.75,89.26 902.02,90.32M903.52,96.20 903.60,96.50 903.79,97.13 904.01,97.85 904.26,98.64 904.53,99.49 904.81,100.37 905.10,101.26 905.39,102.14 905.61,102.80M907.75,108.56 907.82,108.74 908.12,109.44 908.41,110.14 908.71,110.84 908.99,111.52 909.25,112.16 909.49,112.76 909.70,113.30 909.92,113.89 910.20,114.64 910.34,115.04M912.40,120.82 912.70,121.65 913.01,122.55 913.28,123.35 913.50,124.00 913.70,124.65 913.94,125.44 914.19,126.33 914.46,127.30 914.49,127.42M916.23,133.26 916.31,133.48 916.50,133.90 916.69,134.21 916.91,134.50 917.16,134.78 917.43,135.02 917.72,135.24 918.02,135.41 918.31,135.55 918.61,135.63 918.89,135.67 919.15,135.64 919.39,135.56 919.60,135.40 919.82,135.09 920.10,134.58 920.41,133.91 920.76,133.11 920.88,132.81M923.32,127.13 923.40,127.00 923.60,126.76 923.84,126.55 924.09,126.37 924.36,126.22 924.64,126.11 924.93,126.03 925.21,125.97 925.49,125.95 925.75,125.97 925.99,126.01 926.21,126.09 926.40,126.20 926.59,126.39 926.82,126.69 927.09,127.09 927.37,127.56 927.68,128.09 927.98,128.65 928.29,129.22 928.52,129.66M930.77,135.38 930.80,135.48 931.00,136.02 931.19,136.45 931.37,136.77 931.54,136.93 931.70,136.90 931.87,136.65 932.09,136.18 932.34,135.53 932.61,134.73 932.91,133.81 933.22,132.80 933.42,132.10M934.98,126.23 934.99,126.17 935.22,125.09 935.47,123.83 935.75,122.42 936.04,120.92 936.31,119.51M937.44,113.58 937.63,112.62 937.80,111.80 937.96,111.07 938.13,110.25 938.32,109.37 938.52,108.45 938.73,107.52 938.88,106.87M941.48,101.45 941.62,101.39 941.93,101.32 942.23,101.31 942.51,101.35 942.78,101.46 943.01,101.64 943.20,101.90 943.39,102.33 943.61,103.00 943.86,103.87 944.13,104.90 944.41,106.03 944.63,106.94M946.07,112.83 946.20,113.30 946.39,113.92 946.62,114.65 946.87,115.47 947.15,116.34 947.45,117.24 947.75,118.13 948.05,118.99 948.21,119.42M951.74,118.93 951.89,118.66 952.11,118.25 952.30,117.90 952.49,117.50 952.72,116.95 952.98,116.28 953.25,115.53 953.55,114.72 953.85,113.89 954.15,113.07 954.38,112.46M958.96,111.01 959.14,111.36 959.36,111.79 959.58,112.25 959.80,112.72 960.01,113.19 960.21,113.65 960.39,114.08 960.56,114.47 960.70,114.80 960.85,115.16 961.03,115.62 961.24,116.16 961.47,116.76 961.70,117.39 961.73,117.45" fill="none" stroke="#201c8e" stroke-width="2.3" stroke-linejoin="round"/>
</svg>
</body></html>
